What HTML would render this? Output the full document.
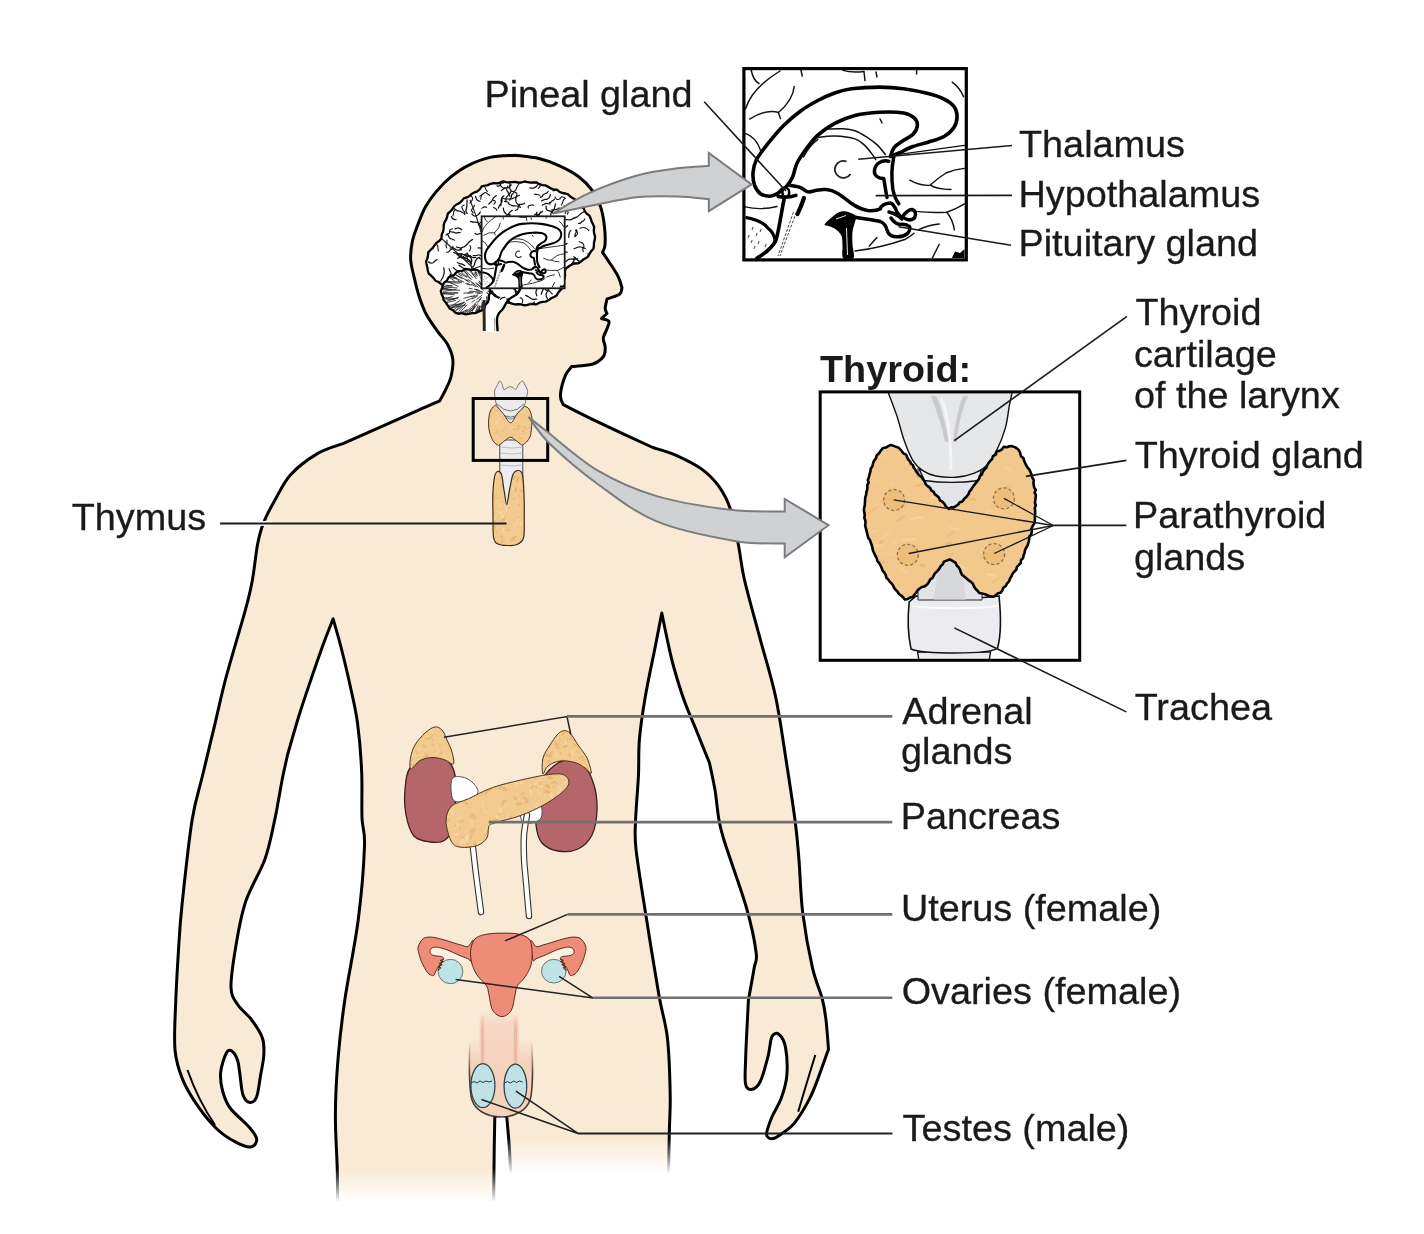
<!DOCTYPE html><html><head><meta charset="utf-8"><title>Endocrine system</title><style>html,body{margin:0;padding:0;background:#fff;overflow:hidden}svg{display:block;will-change:transform}.t{font-family:"Liberation Sans",sans-serif;font-size:37.8px;fill:#1a1a1a;stroke:#1a1a1a;stroke-width:0.3px}</style></head><body>
<svg width="1424" height="1234" viewBox="0 0 1424 1234">
<defs>
<linearGradient id="fadeL" x1="0" y1="0" x2="0" y2="1"><stop offset="0" stop-color="#fff" stop-opacity="0"/><stop offset="1" stop-color="#fff" stop-opacity="1"/></linearGradient>
<g id="bd"><path d="M745.5 109 Q752 88 780 71" fill="none" stroke="#111" stroke-width="1.45" stroke-linecap="round"/>
<path d="M751.3 70.5 Q753 80 759 83.5" fill="none" stroke="#111" stroke-width="1.45" stroke-linecap="round"/>
<path d="M749.6 119.1 Q765 109 778.2 112.3 L780.5 118.5" fill="none" stroke="#111" stroke-width="1.45" stroke-linecap="round"/>
<path d="M778.5 112.5 Q793 100 794.2 86.5" fill="none" stroke="#111" stroke-width="1.45" stroke-linecap="round"/>
<path d="M745.4 133.4 Q756 137 760.5 150.3" fill="none" stroke="#111" stroke-width="1.45" stroke-linecap="round"/>
<path d="M801 70.5 L802.3 76" fill="none" stroke="#111" stroke-width="1.45" stroke-linecap="round"/>
<path d="M843 70.4 Q852 73 864 71.5" fill="none" stroke="#111" stroke-width="1.45" stroke-linecap="round"/>
<path d="M864 72 L865 80.6" fill="none" stroke="#111" stroke-width="1.45" stroke-linecap="round"/>
<path d="M876 72 L877 77" fill="none" stroke="#111" stroke-width="1.45" stroke-linecap="round"/>
<path d="M916.6 70 L916.6 74" fill="none" stroke="#111" stroke-width="1.45" stroke-linecap="round"/>
<path d="M952.2 82.2 Q960 88 963.6 96.8" fill="none" stroke="#111" stroke-width="1.45" stroke-linecap="round"/>
<path d="M909.8 180.2 Q920 186 930 185.3 Q938 178 946 173 Q955 169 964.5 168.4" fill="none" stroke="#111" stroke-width="1.45" stroke-linecap="round"/>
<path d="M930.8 185.3 Q936 189 951 189.5" fill="none" stroke="#111" stroke-width="1.45" stroke-linecap="round"/>
<path d="M915.7 211.4 Q930 213 946.8 212.2 Q956 209 964.5 203.8" fill="none" stroke="#111" stroke-width="1.45" stroke-linecap="round"/>
<path d="M946.8 212.2 Q953 220 954.4 229.9" fill="none" stroke="#111" stroke-width="1.45" stroke-linecap="round"/>
<path d="M918.2 229.9 Q928 225 939.2 224" fill="none" stroke="#111" stroke-width="1.45" stroke-linecap="round"/>
<path d="M855 251 Q880 248 905.5 239.2 Q911 236 914 233.3" fill="none" stroke="#111" stroke-width="1.45" stroke-linecap="round"/>
<path d="M869.3 246 L876.9 237.5" fill="none" stroke="#111" stroke-width="1.45" stroke-linecap="round"/>
<path d="M932.5 257.7 L939.2 244.3" fill="none" stroke="#111" stroke-width="1.45" stroke-linecap="round"/>
<path d="M745.4 206.9 Q760 210.5 777 206.5" fill="none" stroke="#111" stroke-width="1.45" stroke-linecap="round"/>
<path d="M893.9 155.1 Q930 150 964.4 145.4" fill="none" stroke="#111" stroke-width="1.45" stroke-linecap="round"/>
<path d="M803.5 157 Q809 146 817.8 139.3" fill="none" stroke="#111" stroke-width="1.45" stroke-linecap="round"/>
<path d="M880 119 L882 123" fill="none" stroke="#111" stroke-width="1.45" stroke-linecap="round"/>
<path d="M951.9 258 L955 251.5 L960 253 L964.5 249 L964.5 258Z" fill="#000"/>
<path d="M826.3 129.2C829.1 129.1 838.3 128.5 843.1 128.8C847.9 129.1 851 129.4 855 130.8C859 132.2 863.4 134.9 867.2 137.3C871 139.7 874.6 142.4 877.7 145.4C880.8 148.4 884.4 153.5 885.8 155.1" fill="none" stroke="#111" stroke-width="1.5"/>
<path d="M816.2 137.6C819.3 137.3 828.2 135.8 834.7 136C841.2 136.2 850 137.3 855 138.9C860 140.5 861.7 142.7 864.7 145.4C867.7 148.1 870.9 152.7 872.8 155.1C874.7 157.5 875.5 159.2 876 160" fill="none" stroke="#111" stroke-width="1.5"/>
<path d="M846.5 161.5 A8.5 8.5 0 1 0 850.5 174" fill="none" stroke="#222" stroke-width="1.8"/>
<path d="M781.6 189.5C780.9 190.2 779.4 192.6 777.4 193.7C775.4 194.8 772.6 196.2 769.8 196.2C767 196.2 763 195.5 760.5 193.7C758 191.9 755.9 188.8 754.6 185.3C753.4 181.8 752.7 176.8 753 172.6C753.3 168.4 753.9 164.7 756.3 160C758.7 155.3 762.7 150.2 767.3 144.4C771.9 138.6 778.5 130.6 784.1 125C789.7 119.4 795.4 114.8 801 110.7C806.6 106.6 812.2 103.5 817.8 100.5C823.4 97.5 829.1 95 834.7 93C840.3 91 844.1 89.8 851.5 88.8C858.9 87.8 870.6 87.1 879.3 87.1C888 87.1 895.5 87.6 903.6 88.7C911.7 89.8 921.2 91.8 928 93.6C934.8 95.3 939.8 97 944.1 99.2C948.4 101.4 951.7 103.7 953.9 106.5C956.1 109.3 957.1 112.7 957.1 116.2C957.1 119.7 956.1 124.2 953.9 127.6C951.7 131 948.4 134.1 944.1 136.5C939.8 138.9 933.4 140.4 928 142.2C922.6 143.9 916.4 145.2 911.7 147C907 148.8 903.1 151.1 899.6 152.7C896.1 154.3 892 155.9 890.5 156.5C891.1 155.1 892 150.3 893.9 147.8C895.8 145.3 898.8 143.7 902 141.4C905.2 139.1 910.7 136.8 913.3 134.1C915.9 131.4 917.2 127.9 917.4 125.2C917.5 122.5 916.5 119.9 914.2 117.9C911.9 115.9 909.4 114 903.6 113C897.8 112 887.4 111.8 879.3 112.2C871.2 112.6 862.4 113.6 855 115.4C847.6 117.2 840.9 120 834.7 123.3C828.5 126.6 822.7 130.6 817.8 135.1C812.9 139.6 808.7 145.5 805.2 150.3C801.7 155.1 798.9 159.3 796.8 163.7C794.7 168.1 794.3 173.2 792.6 176.9C790.9 180.6 788.5 184 786.7 186.1C784.9 188.2 782.5 188.9 781.6 189.5Z" fill="#fff" stroke="#000" stroke-width="3.6" stroke-linejoin="round"/>
<path d="M888.7 161.2 C882 159.5 875 163.5 874.4 171 C874 176 879 178.5 883.6 178.5 C884.5 182 885.5 190 887 197.5" fill="none" stroke="#000" stroke-width="3.5" stroke-linecap="round" stroke-linejoin="round"/>
<path d="M893.8 157 C891 170 891.5 180 892.9 189.5 C894 195 896 200 898.8 203.8" fill="none" stroke="#000" stroke-width="3.5" stroke-linecap="round" stroke-linejoin="round"/>
<path d="M789.2 185.3 C795 186 800 187 802.7 188.7 C805 190 806 192 809.4 192 C815 190 820 189 826.3 189.5 C835 190 842 196 851.5 203.5 C858 208 862 209.5 867.6 210.5 C874 211 878 210 880.3 208.9 C881 206 884 203.5 890.4 203 C894 204 895.5 208 897.1 212.2 C899 215 901 217 902.2 217.3" fill="none" stroke="#000" stroke-width="3.5" stroke-linecap="round" stroke-linejoin="round"/>
<path d="M902.2 217.3 C905 213 908 209.5 912 209.5 C915.5 210.5 916.5 214.5 914.5 218 C912 220.5 908 220 905 218.5" fill="none" stroke="#000" stroke-width="3.5" stroke-linecap="round" stroke-linejoin="round"/>
<path d="M855 217.3 C865 219 875 220 880.3 221.5 C884 223 886 226 887 230 C888 233 890 236 894 236.5 C898 237 903 237 907 234 C910 231 910.6 229 909.5 226.5 C907 224.5 904 224 900 224.5 C896 224 893 221 891 218" fill="none" stroke="#000" stroke-width="3.5" stroke-linecap="round" stroke-linejoin="round"/>
<path d="M889 212 C893 213 898 214.5 902 219" fill="none" stroke="#000" stroke-width="3.5" stroke-linecap="round" stroke-linejoin="round"/>
<ellipse cx="785.8" cy="192.4" rx="3.4" ry="4.4" fill="#fff" stroke="#000" stroke-width="2.6"/>
<path d="M778.2 196.5 Q787 198.5 795.9 195.4" fill="none" stroke="#000" stroke-width="3.5" stroke-linecap="round" stroke-linejoin="round"/>
<path d="M784.1 199 C781.6 210.6 779.6 227.4 776 240.1 C772 248 765 253.5 757 258" fill="none" stroke="#000" stroke-width="3.6" stroke-linecap="round"/>
<path d="M745.4 217.3 C755 219 763 222 767.3 227.4 C773 232 775.5 238 775 243" fill="none" stroke="#000" stroke-width="3.2"/>
<path d="M804 198 Q801 207 797.5 214" fill="none" stroke="#000" stroke-width="4.2" stroke-linecap="round"/>
<path d="M796.5 212 L780 256 M793.5 212 L778 256" fill="none" stroke="#333" stroke-width="0.9" stroke-dasharray="3 1.5"/>
<path d="M752 230 l1.2 -3" stroke="#555" stroke-width="1.1"/>
<path d="M756 236 l1.2 -3" stroke="#555" stroke-width="1.1"/>
<path d="M751 243 l1.2 -3" stroke="#555" stroke-width="1.1"/>
<path d="M754 249 l1.2 -3" stroke="#555" stroke-width="1.1"/>
<path d="M760 232 l1.2 -3" stroke="#555" stroke-width="1.1"/>
<path d="M748 238 l1.2 -3" stroke="#555" stroke-width="1.1"/>
<path d="M758 244 l1.2 -3" stroke="#555" stroke-width="1.1"/>
<path d="M765 247 l1.2 -3" stroke="#555" stroke-width="1.1"/>
<path d="M824.6 224.5C824.8 223.1 828.6 220.1 831 218C833.4 215.9 836.4 213.3 838.9 212.2C841.4 211.1 843.8 211.3 846 211.5C848.2 211.7 850.3 212.7 852 213.5C853.7 214.3 855.5 215.1 856 216.5C856.5 217.9 855.6 219.4 855 222C854.4 224.6 852.9 228.2 852.5 232C852.1 235.8 852.3 240.7 852.5 245C852.7 249.3 855.1 255.8 853.5 258C851.9 260.2 844.9 260.2 843.1 258C841.3 255.8 842.8 248.7 842.5 245C842.2 241.3 842.5 238.4 841.4 235.8C840.3 233.2 837.9 231.1 836 229.5C834.1 227.9 831.9 227.3 830 226.5C828.1 225.7 824.4 225.9 824.6 224.5Z" fill="#000"/>
<path d="M836 219 L846 215.5 M846.5 228 L847.5 255" stroke="#fff" stroke-width="0.9" fill="none"/></g>
</defs>
<rect width="1424" height="1234" fill="#fff"/>
<path d="M514.8 155.2C518.8 155.8 531.6 156.8 538.9 158.5C546.2 160.2 551.9 162.4 558.4 165.3C564.9 168.2 572.1 171.8 577.8 176C583.5 180.2 588.5 185.2 592.4 190.6C596.3 195.9 599 202 601 208.1C603 214.2 603.8 220.8 604.5 227C605.2 233.2 605.3 240.8 605 245C604.7 249.2 602.9 251.2 602.5 252.4C603.6 253.9 606.3 257.7 608.9 261.7C611.5 265.7 616 272.2 618.2 276.6C620.4 281 621.4 285.9 622 287.8C621.6 288.9 622 292.4 619.5 294.3C617 296.2 609.1 298.2 607 299C606.7 300.6 605.2 305.9 605.2 308.3C605.2 310.7 606.7 312.6 607 313.5C606.1 314.3 602.4 317.7 601.5 318.5C602.7 319 608 319.6 608.9 321.3C609.8 323 607.9 326 607 328.8C606.1 331.6 603.6 335 603.3 338.1C603 341.2 605.2 344.3 605.2 347.4C605.2 350.5 605.5 353.9 603.3 356.7C601.1 359.5 597.4 362.6 592.1 364.2C586.8 365.8 575.1 366.1 571.7 366.5C570.6 368 567.2 370.9 565.3 375.6C563.4 380.4 560.7 390.1 560.4 395C560.1 399.9 562.8 403.1 563.3 404.7C569.1 407.6 583.4 415.1 598.3 422.2C613.2 429.3 643.7 443.3 652.8 447.5C656.7 448.8 668 451.7 676.1 455.3C684.2 458.9 694.3 463.7 701.4 468.9C708.5 474.1 714 479.6 718.9 486.4C723.8 493.2 727.4 500.1 730.6 509.8C733.9 519.5 736.1 533.1 738.4 544.8C740.7 556.5 740.9 564.4 744.5 580C748.1 595.6 754.8 618.8 760 638.3C765.2 657.8 771.4 677.2 775.6 696.7C779.8 716.2 782.1 734.5 785.3 755C788.5 775.5 792.7 802.7 795 820C797.3 837.3 797.6 843.3 798.9 858.9C800.2 874.5 800.5 895.2 802.8 913.4C805.1 931.5 809.2 953.5 812.5 967.8C815.8 982.1 820 990.3 822.3 999C824.5 1007.7 825 1011.6 826 1020C827 1028.4 828.1 1044.4 828.5 1049.3C826.9 1053.7 822.1 1067.6 819 1075.8C815.9 1084 813.7 1090.7 809.6 1098.6C805.5 1106.5 798.8 1117.5 794.4 1123.2C790 1128.9 786.6 1130.1 783 1132.7C779.4 1135.3 775.8 1138.3 773 1138.6C770.2 1138.9 766.7 1138 766.5 1134.5C766.3 1131 769.3 1123.5 771.7 1117.5C774.1 1111.5 778.6 1105.5 781.1 1098.6C783.6 1091.6 786.1 1084.3 786.8 1075.8C787.5 1067.3 786.8 1054.3 785.5 1047.4C784.2 1040.5 781.2 1036.3 779 1034.5C776.8 1032.7 773.9 1032.8 772 1036.5C770.1 1040.2 769.9 1049.4 767.9 1056.9C765.9 1064.4 763 1076.1 760.3 1081.5C757.6 1086.9 754 1089.1 751.5 1089.5C749 1089.9 746.5 1088.9 745.5 1084C744.5 1079.1 745.4 1067.7 745.6 1060C745.8 1052.3 746 1047.9 746.5 1037.9C747 1027.9 748.1 1006.3 748.4 1000C749.4 994.6 752.9 975.8 754.2 967.8C755.5 959.8 757.4 962.3 756.1 952.3C754.8 942.2 751.6 925.7 746.4 907.5C741.2 889.3 729.6 857.9 725 843.3C720.4 828.7 720.7 828.9 719 820C717.3 811.1 716.6 799.5 715 790C713.4 780.5 710.4 767.5 709.5 763C707.4 757.8 701.2 742.4 697 732C692.8 721.6 688 711.3 684.2 700.6C680.4 689.9 676.7 677.6 674 668C671.3 658.4 670 652.2 668 643C666 633.8 662.8 618 661.8 613C660.7 618.8 657.8 634 655 648C652.2 662 647.9 681.5 645.3 696.7C642.7 712 640.5 726.5 639.4 739.5C638.3 752.5 639.1 761.1 638.5 774.5C637.9 787.9 636 807.5 635.6 820C635.2 832.5 634.4 834 636 849.2C637.6 864.4 641.5 887.1 645.3 911.4C649.1 935.7 655.2 973.9 658.9 995C662.6 1016.1 665.5 1021.3 667.4 1037.9C669.3 1054.5 669.9 1079 670.2 1094.8C670.5 1110.6 669.7 1115.2 669.3 1132.7C668.9 1150.2 668.2 1188.8 668 1200C642 1200 538 1200 512 1200C511.6 1191.7 510.4 1163.8 509.5 1150C508.6 1136.2 507.2 1122.5 506.8 1117C505.8 1116.5 502.5 1114 500.5 1114C498.5 1114 495.8 1116.5 494.8 1117C494.7 1122.5 494.4 1133.7 494.2 1150C494 1166.3 493.6 1204.2 493.5 1215C467.5 1215 363.5 1215 337.5 1215C337.5 1207.6 337.7 1187.5 337.3 1170.6C336.9 1153.7 335.2 1132.8 335.4 1113.8C335.5 1094.8 336.6 1075.9 338.2 1056.9C339.8 1037.9 341.5 1022.8 344.8 1000C348.1 977.2 354.9 945.7 358.2 920C361.5 894.3 363.9 863 364.5 846C365.1 829 362.5 830.6 362 818C361.5 805.4 362.4 786.4 361.6 770.5C360.9 754.6 359.4 737.1 357.5 722.9C355.6 708.6 352.7 697.5 350 685C347.3 672.5 344 659 341.2 648C338.4 637 334.5 623.8 333.1 618.9C331.4 623.2 326.4 635.6 323 645C319.6 654.4 316.4 663.5 312.5 675C308.6 686.5 303.7 700.7 299.5 714C295.3 727.3 289.5 748.2 287.5 755C286.7 758.8 284 770.5 282.5 778C281 785.5 279.8 793 278.5 800C277.2 807 276.9 810.2 274.7 820C272.4 829.8 269.9 845.3 265 858.9C260.1 872.5 250.5 887.1 245.6 901.7C240.7 916.3 238.2 932.1 235.8 946.4C233.4 960.7 230.7 977.6 231 987.3C231.3 997 234.5 999.5 237.8 1004.8C241.1 1010.1 246.9 1013.5 251 1019C255.1 1024.5 260.3 1032 262.4 1038C264.5 1044 264.1 1048.7 263.8 1055C263.5 1061.3 261.7 1068.8 260.5 1075.8C259.3 1082.8 258.4 1092.2 256.7 1096.7C254.9 1101.2 252.3 1102.8 250 1102.5C247.7 1102.2 244.7 1099.6 243 1095C241.3 1090.4 240.9 1080.7 240 1075C239.1 1069.3 239 1064.7 237.7 1060.7C236.4 1056.7 233.9 1052.5 232 1051.2C230.1 1049.9 228.3 1049.5 226.4 1053C224.5 1056.5 221.3 1065.7 220.7 1072C220.1 1078.3 221 1085 222.6 1091C224.2 1097 225.7 1102 230.1 1108C234.5 1114 244.7 1121.8 249.1 1127C253.5 1132.2 256.4 1135.7 256.7 1139C257 1142.3 254.5 1146.5 251 1147C247.5 1147.5 241.5 1145.2 235.8 1142.2C230.1 1139.2 223.2 1135 216.9 1129C210.6 1123 203.6 1114.4 197.9 1106.2C192.2 1098 186.5 1089 182.7 1079.6C178.9 1070.2 176.2 1063.3 175 1050C173.8 1036.7 175.2 1016.7 175.8 1000C176.4 983.3 177.5 965.8 178.5 950C179.5 934.2 179.7 926.7 182 905C184.3 883.3 188.6 841.8 192.1 820C195.6 798.2 199.1 790.2 202.8 774.5C206.5 758.8 210.6 742.1 214.5 725.9C218.4 709.7 220.9 696.7 226.1 677.2C231.3 657.8 241.2 625.4 245.6 609.2C250 593 250.4 590.7 252.4 580C254.4 569.3 255.7 554.2 257.5 544.8C259.3 535.4 260.4 530.9 263.3 523.4C266.2 515.9 270.4 508.1 275 500C279.6 491.9 283.5 482.5 290.6 474.7C297.7 466.9 309.1 458.6 317.8 453.4C326.5 448.2 338.8 445.2 343 443.6C352.5 439.4 386.7 424.3 400 418.4C413.3 412.5 416.1 411.1 422.7 408.2C429.3 405.3 436.9 402.1 439.7 400.9C440.6 399.1 443.5 394.2 445.4 390.1C447.3 386 449.9 381.6 451.1 376.5C452.3 371.4 453.4 364.7 452.8 359.4C452.2 354.1 450.3 349.4 447.7 344.7C445.1 340 441 336.2 437.4 331.1C433.8 326 429.1 319.7 426.1 314C423.1 308.3 421.2 302.7 419.3 297C417.4 291.3 416.2 286.2 414.8 280C413.4 273.8 411.1 266.5 410.7 260C410.3 253.5 411.2 247 412.4 241.1C413.6 235.2 415.8 230.1 418 224.3C420.2 218.5 422.6 211.9 425.8 206.3C429 200.7 433 195.5 437.1 190.6C441.2 185.7 445.6 181.2 450.6 177.1C455.7 173 460.8 169.1 467.4 165.8C473.9 162.5 482 159.2 489.9 157.4C497.8 155.6 510.6 155.6 514.8 155.2Z" fill="#f9ead6" stroke="#000" stroke-width="3" stroke-linejoin="round"/>
<path d="M187.5 1070 Q198 1100 215 1125" fill="none" stroke="#000" stroke-width="2"/>
<path d="M815.3 1055 Q806 1085 798.2 1111.8" fill="none" stroke="#000" stroke-width="2"/>
<rect x="499.8" y="440" width="23" height="70" fill="#ededf1" stroke="#333" stroke-width="0.9"/>
<path d="M500 447 Q512 449 524 447" fill="none" stroke="#b0b1b4" stroke-width="0.8"/>
<path d="M500 453 Q512 455 524 453" fill="none" stroke="#b0b1b4" stroke-width="0.8"/>
<path d="M500 459 Q512 461 524 459" fill="none" stroke="#b0b1b4" stroke-width="0.8"/>
<path d="M500 465 Q512 467 524 465" fill="none" stroke="#b0b1b4" stroke-width="0.8"/>
<path d="M494.5 392.1C494.5 388.8 496.1 387.8 497 386C497.9 384.2 498.8 381.4 499.6 381.1C500.4 380.8 501.3 382.6 502 384C502.7 385.4 503 388.9 503.8 389.6C504.6 390.3 505.9 388.5 507 388C508.1 387.5 509.5 386.6 510.6 386.6C511.7 386.6 512.6 387.5 513.5 388C514.4 388.5 514.8 390.3 515.7 389.6C516.6 388.9 517.9 385.4 519 384C520.1 382.6 521.6 380.9 522.6 381.1C523.6 381.3 524.1 383.3 525 385C525.9 386.7 527.5 389.1 527.7 391.3C527.9 393.5 526.6 395.6 526 398C525.4 400.4 525.8 402.9 524.3 405.7C522.8 408.5 519.3 412.8 517 415C514.7 417.2 512.8 419 510.6 419C508.4 419 506.3 417.2 504 415C501.7 412.8 498.6 409.8 497 406C495.4 402.2 494.5 395.4 494.5 392.1Z" fill="#ebebee" stroke="#666" stroke-width="0.9"/>
<path d="M497 404 Q510.6 418 524 404 M500 413 Q510.6 421 521 413" fill="none" stroke="#555" stroke-width="0.8"/>
<clipPath id="sthy"><path d="M494.5 405.7C495.7 404.8 495.6 405.3 497 406.6C498.4 407.9 500.7 410.8 503 413.5C505.3 416.2 508.3 422.7 510.6 422.8C512.9 422.9 514.9 416.6 517 414C519.1 411.4 522 408.6 523.4 407.4C524.8 406.2 524.4 406.3 525.3 406.6C526.2 406.9 527.9 407.1 529 409C530.1 410.9 531.5 414.5 531.9 417.7C532.3 420.9 531.8 424.9 531.5 428C531.2 431.1 531 434.1 530.2 436.4C529.4 438.7 527.8 440.6 526.5 442C525.2 443.4 523.4 444.5 522.6 445C521.8 445.5 522.6 445.6 521.5 444.8C520.4 444.1 517.8 441.8 516 440.5C514.2 439.2 512.4 437.2 510.6 437.2C508.8 437.2 506.8 439.2 505 440.5C503.2 441.8 500.8 444.1 499.6 444.8C498.4 445.6 498.9 445.6 497.9 445C496.9 444.4 494.9 443.7 493.5 441.5C492.1 439.3 490.3 435.1 489.5 432C488.7 428.9 488.4 426.1 488.5 422.8C488.6 419.5 489 414.9 490 412C491 409.1 493.3 406.6 494.5 405.7Z"/></clipPath>
<path d="M494.5 405.7C495.7 404.8 495.6 405.3 497 406.6C498.4 407.9 500.7 410.8 503 413.5C505.3 416.2 508.3 422.7 510.6 422.8C512.9 422.9 514.9 416.6 517 414C519.1 411.4 522 408.6 523.4 407.4C524.8 406.2 524.4 406.3 525.3 406.6C526.2 406.9 527.9 407.1 529 409C530.1 410.9 531.5 414.5 531.9 417.7C532.3 420.9 531.8 424.9 531.5 428C531.2 431.1 531 434.1 530.2 436.4C529.4 438.7 527.8 440.6 526.5 442C525.2 443.4 523.4 444.5 522.6 445C521.8 445.5 522.6 445.6 521.5 444.8C520.4 444.1 517.8 441.8 516 440.5C514.2 439.2 512.4 437.2 510.6 437.2C508.8 437.2 506.8 439.2 505 440.5C503.2 441.8 500.8 444.1 499.6 444.8C498.4 445.6 498.9 445.6 497.9 445C496.9 444.4 494.9 443.7 493.5 441.5C492.1 439.3 490.3 435.1 489.5 432C488.7 428.9 488.4 426.1 488.5 422.8C488.6 419.5 489 414.9 490 412C491 409.1 493.3 406.6 494.5 405.7Z" fill="#f2c98f"/>
<g opacity="0.5" clip-path="url(#sthy)"><ellipse cx="501.9" cy="428.4" rx="1.4" ry="0.8" fill="#f9e0b8" transform="rotate(84.1 501.9 428.4)"/><ellipse cx="528.4" cy="409.3" rx="2.3" ry="0.8" fill="#f7d9ab" transform="rotate(8.4 528.4 409.3)"/><ellipse cx="506.4" cy="434.2" rx="1.2" ry="0.6" fill="#e4ad6a" transform="rotate(143.1 506.4 434.2)"/><ellipse cx="510.7" cy="427.6" rx="1.9" ry="0.9" fill="#f9e0b8" transform="rotate(19.5 510.7 427.6)"/><ellipse cx="498" cy="436.5" rx="1.8" ry="0.6" fill="#f9e0b8" transform="rotate(40 498 436.5)"/><ellipse cx="527.7" cy="413.7" rx="2.2" ry="0.8" fill="#f7d9ab" transform="rotate(116.3 527.7 413.7)"/><ellipse cx="518.5" cy="427.8" rx="1.6" ry="0.8" fill="#e4ad6a" transform="rotate(69.9 518.5 427.8)"/><ellipse cx="503.1" cy="418.8" rx="1.7" ry="0.5" fill="#e0a862" transform="rotate(125.6 503.1 418.8)"/><ellipse cx="489.6" cy="415.7" rx="1.8" ry="0.6" fill="#e0a862" transform="rotate(145.6 489.6 415.7)"/><ellipse cx="512.6" cy="427.3" rx="1.1" ry="0.5" fill="#f7d9ab" transform="rotate(2.9 512.6 427.3)"/><ellipse cx="529.2" cy="428.5" rx="2.2" ry="1.1" fill="#f7d9ab" transform="rotate(37.2 529.2 428.5)"/><ellipse cx="496.6" cy="432" rx="2.2" ry="0.8" fill="#e4ad6a" transform="rotate(127.4 496.6 432)"/><ellipse cx="503.1" cy="430.4" rx="2.3" ry="0.7" fill="#e0a862" transform="rotate(130.2 503.1 430.4)"/><ellipse cx="498.9" cy="419.1" rx="2.1" ry="1" fill="#f9e0b8" transform="rotate(116 498.9 419.1)"/><ellipse cx="500.1" cy="436" rx="1.1" ry="0.6" fill="#e4ad6a" transform="rotate(87.6 500.1 436)"/><ellipse cx="496.7" cy="410.6" rx="2" ry="0.8" fill="#e0a862" transform="rotate(3.3 496.7 410.6)"/><ellipse cx="524.9" cy="427.6" rx="2.3" ry="0.8" fill="#e0a862" transform="rotate(34.3 524.9 427.6)"/><ellipse cx="512.8" cy="427.8" rx="1.5" ry="0.6" fill="#f9e0b8" transform="rotate(104.1 512.8 427.8)"/><ellipse cx="522" cy="423.3" rx="2" ry="0.8" fill="#f7d9ab" transform="rotate(105.7 522 423.3)"/><ellipse cx="505.8" cy="439.5" rx="1.2" ry="0.5" fill="#f7d9ab" transform="rotate(92.2 505.8 439.5)"/><ellipse cx="491.2" cy="428.2" rx="2" ry="1.1" fill="#f7d9ab" transform="rotate(31.2 491.2 428.2)"/><ellipse cx="520.6" cy="438.3" rx="2.3" ry="0.9" fill="#e4ad6a" transform="rotate(1.9 520.6 438.3)"/><ellipse cx="515.7" cy="437.9" rx="1.3" ry="0.8" fill="#f7d9ab" transform="rotate(80.6 515.7 437.9)"/><ellipse cx="514.1" cy="429" rx="1.4" ry="0.7" fill="#e0a862" transform="rotate(123.3 514.1 429)"/><ellipse cx="524.4" cy="436.8" rx="1.4" ry="0.7" fill="#f7d9ab" transform="rotate(108.6 524.4 436.8)"/><ellipse cx="513.1" cy="435.1" rx="1.6" ry="0.6" fill="#e4ad6a" transform="rotate(106.3 513.1 435.1)"/><ellipse cx="519.2" cy="425.9" rx="1.8" ry="0.8" fill="#e0a862" transform="rotate(12.6 519.2 425.9)"/><ellipse cx="523.3" cy="431.5" rx="1.4" ry="0.8" fill="#e0a862" transform="rotate(23.8 523.3 431.5)"/><ellipse cx="491.3" cy="410.5" rx="1.9" ry="1.1" fill="#e4ad6a" transform="rotate(31.9 491.3 410.5)"/><ellipse cx="497.3" cy="416" rx="1.3" ry="0.7" fill="#e0a862" transform="rotate(96.6 497.3 416)"/><ellipse cx="523.1" cy="436.2" rx="2" ry="0.8" fill="#f7d9ab" transform="rotate(179.5 523.1 436.2)"/><ellipse cx="496.4" cy="422.5" rx="2.3" ry="1.4" fill="#f9e0b8" transform="rotate(88.1 496.4 422.5)"/><ellipse cx="490.1" cy="426.8" rx="1.6" ry="0.9" fill="#e0a862" transform="rotate(90.7 490.1 426.8)"/><ellipse cx="529.2" cy="427.7" rx="1.6" ry="0.9" fill="#e4ad6a" transform="rotate(152.1 529.2 427.7)"/><ellipse cx="521.4" cy="432.7" rx="1.1" ry="0.4" fill="#f9e0b8" transform="rotate(178.5 521.4 432.7)"/><ellipse cx="517.6" cy="428.9" rx="1.9" ry="1.1" fill="#e0a862" transform="rotate(156.7 517.6 428.9)"/><ellipse cx="523.6" cy="434.1" rx="1.3" ry="0.7" fill="#e0a862" transform="rotate(17.4 523.6 434.1)"/><ellipse cx="497.7" cy="413.3" rx="1.9" ry="0.6" fill="#f7d9ab" transform="rotate(166.5 497.7 413.3)"/><ellipse cx="497.6" cy="416.1" rx="2.2" ry="1" fill="#f7d9ab" transform="rotate(94.1 497.6 416.1)"/><ellipse cx="515.2" cy="420.1" rx="2.1" ry="1" fill="#f7d9ab" transform="rotate(61.9 515.2 420.1)"/></g>
<path d="M494.5 405.7C495.7 404.8 495.6 405.3 497 406.6C498.4 407.9 500.7 410.8 503 413.5C505.3 416.2 508.3 422.7 510.6 422.8C512.9 422.9 514.9 416.6 517 414C519.1 411.4 522 408.6 523.4 407.4C524.8 406.2 524.4 406.3 525.3 406.6C526.2 406.9 527.9 407.1 529 409C530.1 410.9 531.5 414.5 531.9 417.7C532.3 420.9 531.8 424.9 531.5 428C531.2 431.1 531 434.1 530.2 436.4C529.4 438.7 527.8 440.6 526.5 442C525.2 443.4 523.4 444.5 522.6 445C521.8 445.5 522.6 445.6 521.5 444.8C520.4 444.1 517.8 441.8 516 440.5C514.2 439.2 512.4 437.2 510.6 437.2C508.8 437.2 506.8 439.2 505 440.5C503.2 441.8 500.8 444.1 499.6 444.8C498.4 445.6 498.9 445.6 497.9 445C496.9 444.4 494.9 443.7 493.5 441.5C492.1 439.3 490.3 435.1 489.5 432C488.7 428.9 488.4 426.1 488.5 422.8C488.6 419.5 489 414.9 490 412C491 409.1 493.3 406.6 494.5 405.7Z" fill="none" stroke="#4a3418" stroke-width="1"/>
<clipPath id="thym"><path d="M494.5 477C495.3 473.1 496.3 471.9 497.5 471.5C498.7 471.1 500.4 471.4 501.5 474.5C502.6 477.6 503.1 485 504 490C504.9 495 505.8 504.5 506.7 504.5C507.6 504.5 508.4 495 509.5 490C510.6 485 511.5 477.8 513 474.5C514.5 471.2 516.9 470.4 518.5 470.5C520.1 470.6 521.6 470.9 522.5 475C523.4 479.1 523.7 487.5 524 495C524.3 502.5 524.3 512.8 524.2 520C524.1 527.2 524.7 533.9 523.5 538C522.3 542.1 519.6 543.2 517 544.5C514.4 545.8 511.2 545.6 508 545.5C504.8 545.4 500.4 545.4 498 544C495.6 542.6 494.3 541.8 493.5 537C492.7 532.2 493.1 522 493 515C492.9 508 492.6 501.3 492.8 495C493.1 488.7 493.7 480.9 494.5 477Z"/></clipPath>
<path d="M494.5 477C495.3 473.1 496.3 471.9 497.5 471.5C498.7 471.1 500.4 471.4 501.5 474.5C502.6 477.6 503.1 485 504 490C504.9 495 505.8 504.5 506.7 504.5C507.6 504.5 508.4 495 509.5 490C510.6 485 511.5 477.8 513 474.5C514.5 471.2 516.9 470.4 518.5 470.5C520.1 470.6 521.6 470.9 522.5 475C523.4 479.1 523.7 487.5 524 495C524.3 502.5 524.3 512.8 524.2 520C524.1 527.2 524.7 533.9 523.5 538C522.3 542.1 519.6 543.2 517 544.5C514.4 545.8 511.2 545.6 508 545.5C504.8 545.4 500.4 545.4 498 544C495.6 542.6 494.3 541.8 493.5 537C492.7 532.2 493.1 522 493 515C492.9 508 492.6 501.3 492.8 495C493.1 488.7 493.7 480.9 494.5 477Z" fill="#f2c98f"/>
<g opacity="0.5" clip-path="url(#thym)"><ellipse cx="512.8" cy="488.7" rx="2.1" ry="1.2" fill="#f9e0b8" transform="rotate(15.3 512.8 488.7)"/><ellipse cx="499.8" cy="512.3" rx="2.9" ry="1.2" fill="#f9e0b8" transform="rotate(17.7 499.8 512.3)"/><ellipse cx="502.8" cy="484.7" rx="3" ry="1.2" fill="#e0a862" transform="rotate(108.7 502.8 484.7)"/><ellipse cx="512.7" cy="539.2" rx="2.9" ry="1.5" fill="#e0a862" transform="rotate(148.5 512.7 539.2)"/><ellipse cx="493" cy="495.8" rx="2.6" ry="1.1" fill="#e4ad6a" transform="rotate(177.2 493 495.8)"/><ellipse cx="521.4" cy="490.8" rx="2.5" ry="1.1" fill="#e4ad6a" transform="rotate(48.5 521.4 490.8)"/><ellipse cx="514.2" cy="537.2" rx="2.9" ry="1" fill="#e0a862" transform="rotate(178 514.2 537.2)"/><ellipse cx="506.2" cy="509.3" rx="2.2" ry="1.1" fill="#f9e0b8" transform="rotate(89.9 506.2 509.3)"/><ellipse cx="495.7" cy="498.1" rx="2.2" ry="0.7" fill="#e0a862" transform="rotate(1.6 495.7 498.1)"/><ellipse cx="507.6" cy="529.8" rx="2.4" ry="1.1" fill="#e4ad6a" transform="rotate(175 507.6 529.8)"/><ellipse cx="515.6" cy="477.8" rx="1.5" ry="0.6" fill="#f7d9ab" transform="rotate(44.2 515.6 477.8)"/><ellipse cx="519.6" cy="519.1" rx="2.4" ry="0.9" fill="#e0a862" transform="rotate(75.8 519.6 519.1)"/><ellipse cx="516.9" cy="499.8" rx="1.4" ry="0.5" fill="#f7d9ab" transform="rotate(9.3 516.9 499.8)"/><ellipse cx="494.9" cy="520.6" rx="2.2" ry="0.9" fill="#e0a862" transform="rotate(154 494.9 520.6)"/><ellipse cx="495.6" cy="482.5" rx="1.6" ry="1" fill="#f7d9ab" transform="rotate(118.6 495.6 482.5)"/><ellipse cx="497.8" cy="474.3" rx="1.5" ry="0.6" fill="#f9e0b8" transform="rotate(132.8 497.8 474.3)"/><ellipse cx="493.3" cy="508" rx="1.7" ry="1" fill="#f7d9ab" transform="rotate(179.2 493.3 508)"/><ellipse cx="497.5" cy="500.8" rx="1.9" ry="0.6" fill="#f9e0b8" transform="rotate(153.9 497.5 500.8)"/><ellipse cx="518.8" cy="495.7" rx="1.9" ry="0.6" fill="#e0a862" transform="rotate(96 518.8 495.7)"/><ellipse cx="501.7" cy="531.1" rx="1.8" ry="0.7" fill="#f7d9ab" transform="rotate(145.9 501.7 531.1)"/><ellipse cx="495.9" cy="475.6" rx="1.4" ry="0.7" fill="#f9e0b8" transform="rotate(156.4 495.9 475.6)"/><ellipse cx="502.1" cy="520.3" rx="1.7" ry="0.9" fill="#e4ad6a" transform="rotate(149.6 502.1 520.3)"/><ellipse cx="500.6" cy="543.8" rx="1.3" ry="0.6" fill="#f7d9ab" transform="rotate(33.3 500.6 543.8)"/><ellipse cx="514.6" cy="524.8" rx="2.6" ry="1.3" fill="#f7d9ab" transform="rotate(100.9 514.6 524.8)"/><ellipse cx="518" cy="520.5" rx="2.9" ry="1.3" fill="#f7d9ab" transform="rotate(136.4 518 520.5)"/><ellipse cx="509.3" cy="507.6" rx="1.5" ry="0.9" fill="#e4ad6a" transform="rotate(60.2 509.3 507.6)"/><ellipse cx="493.8" cy="484.9" rx="2.1" ry="1.1" fill="#f7d9ab" transform="rotate(84.3 493.8 484.9)"/><ellipse cx="499.6" cy="473.4" rx="1.3" ry="0.5" fill="#e4ad6a" transform="rotate(15.7 499.6 473.4)"/><ellipse cx="496.2" cy="531.9" rx="1.5" ry="0.8" fill="#e4ad6a" transform="rotate(173.1 496.2 531.9)"/><ellipse cx="504.1" cy="499.6" rx="1.4" ry="0.8" fill="#f9e0b8" transform="rotate(160.8 504.1 499.6)"/><ellipse cx="505.6" cy="533.9" rx="1.3" ry="0.6" fill="#f7d9ab" transform="rotate(56.3 505.6 533.9)"/><ellipse cx="509.3" cy="505.1" rx="2" ry="1.2" fill="#f7d9ab" transform="rotate(155.8 509.3 505.1)"/><ellipse cx="517.6" cy="479.6" rx="3" ry="1.5" fill="#e0a862" transform="rotate(96 517.6 479.6)"/><ellipse cx="501.9" cy="542.3" rx="2.2" ry="1" fill="#e0a862" transform="rotate(131.5 501.9 542.3)"/><ellipse cx="509.4" cy="514.9" rx="1.3" ry="0.5" fill="#f9e0b8" transform="rotate(69.1 509.4 514.9)"/><ellipse cx="514" cy="495.9" rx="1.9" ry="1.1" fill="#f7d9ab" transform="rotate(148.3 514 495.9)"/><ellipse cx="495" cy="526.7" rx="2.2" ry="1" fill="#e0a862" transform="rotate(98.3 495 526.7)"/><ellipse cx="505.6" cy="511.2" rx="2" ry="0.7" fill="#f9e0b8" transform="rotate(103.4 505.6 511.2)"/><ellipse cx="519" cy="504.6" rx="1.8" ry="0.7" fill="#e4ad6a" transform="rotate(28.6 519 504.6)"/><ellipse cx="513.9" cy="498.2" rx="1.4" ry="0.8" fill="#e0a862" transform="rotate(72.2 513.9 498.2)"/><ellipse cx="503.3" cy="537.6" rx="2.3" ry="0.9" fill="#e4ad6a" transform="rotate(50.9 503.3 537.6)"/><ellipse cx="506.3" cy="522.3" rx="3" ry="1.6" fill="#f9e0b8" transform="rotate(82.8 506.3 522.3)"/><ellipse cx="501.5" cy="538.3" rx="2.8" ry="1.2" fill="#f9e0b8" transform="rotate(9.9 501.5 538.3)"/><ellipse cx="514" cy="477.9" rx="2.2" ry="1.1" fill="#e0a862" transform="rotate(134.5 514 477.9)"/><ellipse cx="494.7" cy="518.6" rx="2.1" ry="0.8" fill="#f9e0b8" transform="rotate(89.2 494.7 518.6)"/><ellipse cx="502.5" cy="516.9" rx="2.4" ry="1.3" fill="#f9e0b8" transform="rotate(130.5 502.5 516.9)"/><ellipse cx="520" cy="498" rx="1.3" ry="0.4" fill="#e0a862" transform="rotate(105.4 520 498)"/><ellipse cx="521.8" cy="479.2" rx="2.7" ry="0.9" fill="#e4ad6a" transform="rotate(123.2 521.8 479.2)"/><ellipse cx="509.9" cy="509.5" rx="1.5" ry="0.6" fill="#f7d9ab" transform="rotate(3 509.9 509.5)"/><ellipse cx="500.7" cy="537.7" rx="2.6" ry="1.2" fill="#f7d9ab" transform="rotate(96.6 500.7 537.7)"/><ellipse cx="521.8" cy="523.8" rx="2.6" ry="1.4" fill="#f9e0b8" transform="rotate(46.9 521.8 523.8)"/><ellipse cx="504.2" cy="519.5" rx="2.3" ry="1.3" fill="#e0a862" transform="rotate(90 504.2 519.5)"/><ellipse cx="499.9" cy="505.2" rx="2.5" ry="0.9" fill="#f9e0b8" transform="rotate(103.1 499.9 505.2)"/><ellipse cx="522.3" cy="520.1" rx="2.5" ry="0.9" fill="#f9e0b8" transform="rotate(85.6 522.3 520.1)"/><ellipse cx="511.5" cy="487.2" rx="2.6" ry="1.2" fill="#f7d9ab" transform="rotate(149.3 511.5 487.2)"/><ellipse cx="501.6" cy="538.1" rx="2.9" ry="1.2" fill="#e4ad6a" transform="rotate(71.1 501.6 538.1)"/><ellipse cx="501.9" cy="494" rx="1.5" ry="0.7" fill="#f7d9ab" transform="rotate(29.3 501.9 494)"/><ellipse cx="515.7" cy="489.2" rx="2.5" ry="1.4" fill="#e0a862" transform="rotate(97 515.7 489.2)"/><ellipse cx="503.1" cy="530.4" rx="2.6" ry="1.4" fill="#f9e0b8" transform="rotate(97.8 503.1 530.4)"/><ellipse cx="518.8" cy="523.9" rx="2.3" ry="1.2" fill="#f7d9ab" transform="rotate(174.6 518.8 523.9)"/></g>
<path d="M494.5 477C495.3 473.1 496.3 471.9 497.5 471.5C498.7 471.1 500.4 471.4 501.5 474.5C502.6 477.6 503.1 485 504 490C504.9 495 505.8 504.5 506.7 504.5C507.6 504.5 508.4 495 509.5 490C510.6 485 511.5 477.8 513 474.5C514.5 471.2 516.9 470.4 518.5 470.5C520.1 470.6 521.6 470.9 522.5 475C523.4 479.1 523.7 487.5 524 495C524.3 502.5 524.3 512.8 524.2 520C524.1 527.2 524.7 533.9 523.5 538C522.3 542.1 519.6 543.2 517 544.5C514.4 545.8 511.2 545.6 508 545.5C504.8 545.4 500.4 545.4 498 544C495.6 542.6 494.3 541.8 493.5 537C492.7 532.2 493.1 522 493 515C492.9 508 492.6 501.3 492.8 495C493.1 488.7 493.7 480.9 494.5 477Z" fill="none" stroke="#3a2a14" stroke-width="1.2"/>
<path d="M430 756C436.2 754.7 442.8 756.8 447 760C451.2 763.2 453.6 768.3 455 775C456.4 781.7 455.8 791.7 455.5 800C455.2 808.3 455.2 818.3 453.5 825C451.8 831.7 448.9 837.2 445 840C441.1 842.8 435.2 842.7 430 842C424.8 841.3 418 840.5 414 836C410 831.5 407.5 822.7 406 815C404.5 807.3 404.3 797.8 405 790C405.7 782.2 405.8 773.7 410 768C414.2 762.3 423.8 757.3 430 756Z" fill="#b4666b" stroke="#3d1d1d" stroke-width="1.3"/>
<path d="M565 760C571.5 758.5 579.2 761.8 584 766C588.8 770.2 591.8 777.7 594 785C596.2 792.3 597.3 801.7 597 810C596.7 818.3 595.2 828.5 592 835C588.8 841.5 583.7 846.3 578 849C572.3 851.7 564 852 558 851C552 850 545.7 847.3 542 843C538.3 838.7 536.8 832.2 536 825C535.2 817.8 535.5 808.3 537 800C538.5 791.7 540.3 781.7 545 775C549.7 768.3 558.5 761.5 565 760Z" fill="#b4666b" stroke="#3d1d1d" stroke-width="1.3"/>
<path d="M452 779C453.7 775.7 458.7 776.5 462 777C465.3 777.5 469.3 779.5 472 782C474.7 784.5 478.3 789 478 792C477.7 795 473.3 798.3 470 800C466.7 801.7 461 802.5 458 802C455 801.5 453 800.8 452 797C451 793.2 450.3 782.3 452 779Z" fill="#fff" stroke="#444" stroke-width="0.9"/>
<path d="M521 806C522.7 803 528.7 803 532 803C535.3 803 539.5 803.5 541 806C542.5 808.5 542.5 815.2 541 818C539.5 820.8 535.2 822.5 532 823C528.8 823.5 523.8 823.8 522 821C520.2 818.2 519.3 809 521 806Z" fill="#fff" stroke="#444" stroke-width="0.9"/>
<path d="M470 812C470.2 815 470.5 824 471 830C471.5 836 472.2 840.7 473 848C473.8 855.3 475 865.8 476 874C477 882.2 478.2 890.7 479 897C479.8 903.3 480.7 909.5 481 912" fill="none" stroke="#333" stroke-width="6.5" stroke-linecap="round"/>
<path d="M470 812C470.2 815 470.5 824 471 830C471.5 836 472.2 840.7 473 848C473.8 855.3 475 865.8 476 874C477 882.2 478.2 890.7 479 897C479.8 903.3 480.7 909.5 481 912" fill="none" stroke="#fff" stroke-width="4.3" stroke-linecap="round"/>
<path d="M527 815C526.5 818.3 524.5 827.8 524 835C523.5 842.2 523.7 850.2 524 858C524.3 865.8 525.2 872.3 526 882C526.8 891.7 528.5 910.3 529 916" fill="none" stroke="#333" stroke-width="6.5" stroke-linecap="round"/>
<path d="M527 815C526.5 818.3 524.5 827.8 524 835C523.5 842.2 523.7 850.2 524 858C524.3 865.8 525.2 872.3 526 882C526.8 891.7 528.5 910.3 529 916" fill="none" stroke="#fff" stroke-width="4.3" stroke-linecap="round"/>
<clipPath id="adr0"><path d="M434.7 727C437.5 726.5 439.9 727.8 442 730C444.1 732.2 445.3 736.3 447 740C448.7 743.7 450.9 748 452 752C453.1 756 454.6 762.7 453.4 764C452.2 765.3 448.4 761.1 445 760C441.6 758.9 437.2 757.4 433 757.5C428.8 757.6 423.7 758.6 420 760.5C416.3 762.4 412.6 769.4 411 769C409.4 768.6 409.8 762 410.5 758C411.2 754 412.6 749.2 415 745C417.4 740.8 421.7 736 425 733C428.3 730 431.9 727.5 434.7 727Z"/></clipPath>
<path d="M434.7 727C437.5 726.5 439.9 727.8 442 730C444.1 732.2 445.3 736.3 447 740C448.7 743.7 450.9 748 452 752C453.1 756 454.6 762.7 453.4 764C452.2 765.3 448.4 761.1 445 760C441.6 758.9 437.2 757.4 433 757.5C428.8 757.6 423.7 758.6 420 760.5C416.3 762.4 412.6 769.4 411 769C409.4 768.6 409.8 762 410.5 758C411.2 754 412.6 749.2 415 745C417.4 740.8 421.7 736 425 733C428.3 730 431.9 727.5 434.7 727Z" fill="#f2c98f"/>
<g opacity="0.5" clip-path="url(#adr0)"><ellipse cx="433.6" cy="739.1" rx="1.3" ry="0.6" fill="#f9e0b8" transform="rotate(37.8 433.6 739.1)"/><ellipse cx="445.5" cy="749.3" rx="2" ry="1.1" fill="#f7d9ab" transform="rotate(62.7 445.5 749.3)"/><ellipse cx="427.7" cy="737.4" rx="2.2" ry="0.9" fill="#f7d9ab" transform="rotate(77.2 427.7 737.4)"/><ellipse cx="439.4" cy="753.8" rx="2.8" ry="0.9" fill="#f9e0b8" transform="rotate(89 439.4 753.8)"/><ellipse cx="423.9" cy="748.3" rx="1.5" ry="0.8" fill="#f7d9ab" transform="rotate(21.3 423.9 748.3)"/><ellipse cx="428.1" cy="758.5" rx="1.8" ry="0.8" fill="#f9e0b8" transform="rotate(33.5 428.1 758.5)"/><ellipse cx="413.4" cy="766.4" rx="2.9" ry="1.3" fill="#e0a862" transform="rotate(87.4 413.4 766.4)"/><ellipse cx="421.4" cy="737.7" rx="2.5" ry="1.2" fill="#e4ad6a" transform="rotate(123.5 421.4 737.7)"/><ellipse cx="432.5" cy="744.6" rx="1.6" ry="0.6" fill="#e0a862" transform="rotate(66.6 432.5 744.6)"/><ellipse cx="449" cy="761.2" rx="1.8" ry="1" fill="#e0a862" transform="rotate(119.1 449 761.2)"/><ellipse cx="446.2" cy="746.8" rx="1.8" ry="0.6" fill="#f9e0b8" transform="rotate(28.6 446.2 746.8)"/><ellipse cx="433.2" cy="740.5" rx="2.5" ry="0.8" fill="#f7d9ab" transform="rotate(60.2 433.2 740.5)"/><ellipse cx="446.8" cy="757.5" rx="2.7" ry="1.2" fill="#f7d9ab" transform="rotate(126.7 446.8 757.5)"/><ellipse cx="416.7" cy="752" rx="2.3" ry="1" fill="#e4ad6a" transform="rotate(78.9 416.7 752)"/><ellipse cx="421.2" cy="739.3" rx="1.8" ry="1" fill="#f9e0b8" transform="rotate(2.5 421.2 739.3)"/><ellipse cx="425.2" cy="747.1" rx="2" ry="0.7" fill="#e0a862" transform="rotate(88 425.2 747.1)"/><ellipse cx="435.1" cy="734.4" rx="1.7" ry="0.7" fill="#e4ad6a" transform="rotate(19 435.1 734.4)"/><ellipse cx="430.9" cy="731" rx="1.9" ry="0.7" fill="#f9e0b8" transform="rotate(126.4 430.9 731)"/><ellipse cx="411.4" cy="755.8" rx="2.2" ry="1.2" fill="#f9e0b8" transform="rotate(139.5 411.4 755.8)"/><ellipse cx="432.7" cy="739.8" rx="2.3" ry="0.8" fill="#e4ad6a" transform="rotate(41.1 432.7 739.8)"/><ellipse cx="432" cy="735" rx="1.8" ry="0.6" fill="#e0a862" transform="rotate(4.5 432 735)"/><ellipse cx="427.6" cy="738.6" rx="2.5" ry="1.1" fill="#e0a862" transform="rotate(174 427.6 738.6)"/><ellipse cx="442.4" cy="746.5" rx="1.4" ry="0.8" fill="#f7d9ab" transform="rotate(13.6 442.4 746.5)"/><ellipse cx="434.6" cy="753.4" rx="2.3" ry="0.8" fill="#f7d9ab" transform="rotate(0 434.6 753.4)"/><ellipse cx="411.3" cy="759.6" rx="1.9" ry="0.8" fill="#e0a862" transform="rotate(57.8 411.3 759.6)"/><ellipse cx="437.5" cy="744.1" rx="1.6" ry="0.5" fill="#f7d9ab" transform="rotate(4.3 437.5 744.1)"/><ellipse cx="418.7" cy="749.9" rx="3" ry="0.9" fill="#f7d9ab" transform="rotate(145.1 418.7 749.9)"/><ellipse cx="450.5" cy="760.7" rx="1.8" ry="1" fill="#f9e0b8" transform="rotate(70.9 450.5 760.7)"/><ellipse cx="413.5" cy="754.7" rx="2" ry="0.7" fill="#f9e0b8" transform="rotate(102 413.5 754.7)"/><ellipse cx="437.1" cy="752.8" rx="2.1" ry="0.9" fill="#f9e0b8" transform="rotate(84.1 437.1 752.8)"/><ellipse cx="443.5" cy="754.6" rx="2.2" ry="1.1" fill="#f9e0b8" transform="rotate(32.1 443.5 754.6)"/><ellipse cx="438.5" cy="741" rx="1.3" ry="0.6" fill="#f7d9ab" transform="rotate(16.4 438.5 741)"/><ellipse cx="440.6" cy="753.5" rx="2.6" ry="1.3" fill="#e4ad6a" transform="rotate(148.4 440.6 753.5)"/><ellipse cx="446.5" cy="758.8" rx="1.3" ry="0.4" fill="#f7d9ab" transform="rotate(93.9 446.5 758.8)"/><ellipse cx="417.6" cy="759.4" rx="1.7" ry="0.6" fill="#f9e0b8" transform="rotate(154.2 417.6 759.4)"/><ellipse cx="425.4" cy="756.7" rx="2.6" ry="1" fill="#e4ad6a" transform="rotate(165.2 425.4 756.7)"/><ellipse cx="440.2" cy="742.5" rx="2.5" ry="0.9" fill="#f7d9ab" transform="rotate(59.9 440.2 742.5)"/><ellipse cx="430.4" cy="737.5" rx="2.1" ry="0.9" fill="#e4ad6a" transform="rotate(173.1 430.4 737.5)"/><ellipse cx="435.1" cy="751.1" rx="1.4" ry="0.7" fill="#e4ad6a" transform="rotate(75.4 435.1 751.1)"/><ellipse cx="439.9" cy="744.8" rx="1.7" ry="0.8" fill="#e4ad6a" transform="rotate(39.3 439.9 744.8)"/><ellipse cx="433" cy="732" rx="1.5" ry="0.5" fill="#f9e0b8" transform="rotate(111.4 433 732)"/><ellipse cx="426.5" cy="756.1" rx="2.9" ry="1.7" fill="#e0a862" transform="rotate(77.8 426.5 756.1)"/><ellipse cx="423.4" cy="745.9" rx="1.9" ry="0.9" fill="#e0a862" transform="rotate(54.8 423.4 745.9)"/><ellipse cx="420.6" cy="755.7" rx="1.3" ry="0.7" fill="#f9e0b8" transform="rotate(76.6 420.6 755.7)"/><ellipse cx="449.8" cy="760.6" rx="2.6" ry="1.1" fill="#f7d9ab" transform="rotate(72 449.8 760.6)"/></g>
<path d="M434.7 727C437.5 726.5 439.9 727.8 442 730C444.1 732.2 445.3 736.3 447 740C448.7 743.7 450.9 748 452 752C453.1 756 454.6 762.7 453.4 764C452.2 765.3 448.4 761.1 445 760C441.6 758.9 437.2 757.4 433 757.5C428.8 757.6 423.7 758.6 420 760.5C416.3 762.4 412.6 769.4 411 769C409.4 768.6 409.8 762 410.5 758C411.2 754 412.6 749.2 415 745C417.4 740.8 421.7 736 425 733C428.3 730 431.9 727.5 434.7 727Z" fill="none" stroke="#4a3418" stroke-width="1"/>
<clipPath id="adr1"><path d="M563.3 730.8C565.5 730.5 567.5 730.6 570 733C572.5 735.4 575.2 740.8 578 745C580.8 749.2 584.8 753.3 587 758C589.2 762.7 591.6 771.3 591.3 773C591 774.7 587.7 769.8 585 768C582.3 766.2 579.2 763.7 575 762.5C570.8 761.3 564.5 760.4 560 761C555.5 761.6 550.9 763.8 548 766C545.1 768.2 543.6 775.3 542.8 774C542 772.7 541.8 762.8 543 758C544.2 753.2 547.7 748.8 550 745C552.3 741.2 554.8 737.4 557 735C559.2 732.6 561.1 731.1 563.3 730.8Z"/></clipPath>
<path d="M563.3 730.8C565.5 730.5 567.5 730.6 570 733C572.5 735.4 575.2 740.8 578 745C580.8 749.2 584.8 753.3 587 758C589.2 762.7 591.6 771.3 591.3 773C591 774.7 587.7 769.8 585 768C582.3 766.2 579.2 763.7 575 762.5C570.8 761.3 564.5 760.4 560 761C555.5 761.6 550.9 763.8 548 766C545.1 768.2 543.6 775.3 542.8 774C542 772.7 541.8 762.8 543 758C544.2 753.2 547.7 748.8 550 745C552.3 741.2 554.8 737.4 557 735C559.2 732.6 561.1 731.1 563.3 730.8Z" fill="#f2c98f"/>
<g opacity="0.5" clip-path="url(#adr1)"><ellipse cx="561.9" cy="760.3" rx="1.5" ry="0.5" fill="#e4ad6a" transform="rotate(41.7 561.9 760.3)"/><ellipse cx="549.9" cy="762.8" rx="2.4" ry="0.8" fill="#e0a862" transform="rotate(96.4 549.9 762.8)"/><ellipse cx="568.3" cy="739.7" rx="2.3" ry="0.8" fill="#e0a862" transform="rotate(138.6 568.3 739.7)"/><ellipse cx="559.4" cy="739.7" rx="1.9" ry="0.9" fill="#e4ad6a" transform="rotate(44.4 559.4 739.7)"/><ellipse cx="563" cy="759.4" rx="1.4" ry="0.4" fill="#e4ad6a" transform="rotate(32.4 563 759.4)"/><ellipse cx="574.4" cy="740.2" rx="2.6" ry="1.4" fill="#e4ad6a" transform="rotate(34.9 574.4 740.2)"/><ellipse cx="566.2" cy="742.2" rx="1.8" ry="0.8" fill="#f9e0b8" transform="rotate(86.7 566.2 742.2)"/><ellipse cx="557.7" cy="738.4" rx="2.3" ry="1.1" fill="#f7d9ab" transform="rotate(121.4 557.7 738.4)"/><ellipse cx="556.6" cy="744" rx="2.7" ry="1.5" fill="#e4ad6a" transform="rotate(20.5 556.6 744)"/><ellipse cx="581.1" cy="755.1" rx="1.5" ry="0.5" fill="#f7d9ab" transform="rotate(176.9 581.1 755.1)"/><ellipse cx="572.5" cy="752.9" rx="2.8" ry="1.6" fill="#f7d9ab" transform="rotate(88.2 572.5 752.9)"/><ellipse cx="581.5" cy="757" rx="2.1" ry="1.2" fill="#e0a862" transform="rotate(4.4 581.5 757)"/><ellipse cx="561" cy="743" rx="1.6" ry="0.5" fill="#f7d9ab" transform="rotate(22.5 561 743)"/><ellipse cx="587.6" cy="769.1" rx="2.6" ry="1.5" fill="#e4ad6a" transform="rotate(156 587.6 769.1)"/><ellipse cx="569.7" cy="754.9" rx="2.1" ry="1.1" fill="#e4ad6a" transform="rotate(90.6 569.7 754.9)"/><ellipse cx="568.2" cy="761.8" rx="2.1" ry="1.1" fill="#e4ad6a" transform="rotate(84 568.2 761.8)"/><ellipse cx="560.8" cy="753.4" rx="1.9" ry="0.7" fill="#e0a862" transform="rotate(52.7 560.8 753.4)"/><ellipse cx="570.9" cy="738" rx="2.7" ry="0.9" fill="#e4ad6a" transform="rotate(76.5 570.9 738)"/><ellipse cx="557.7" cy="756.2" rx="2.9" ry="1.1" fill="#f7d9ab" transform="rotate(169.1 557.7 756.2)"/><ellipse cx="544.4" cy="757.4" rx="2.8" ry="1.1" fill="#f9e0b8" transform="rotate(36.4 544.4 757.4)"/><ellipse cx="564.3" cy="761.4" rx="1.7" ry="0.7" fill="#f9e0b8" transform="rotate(53.5 564.3 761.4)"/><ellipse cx="589.8" cy="769" rx="2.5" ry="1.4" fill="#f9e0b8" transform="rotate(81.3 589.8 769)"/><ellipse cx="574.7" cy="748.8" rx="1.4" ry="0.5" fill="#f7d9ab" transform="rotate(145.5 574.7 748.8)"/><ellipse cx="556" cy="743.1" rx="2.8" ry="1" fill="#e4ad6a" transform="rotate(55.3 556 743.1)"/><ellipse cx="584" cy="759.8" rx="2.5" ry="0.8" fill="#e0a862" transform="rotate(163.1 584 759.8)"/><ellipse cx="557.8" cy="747.5" rx="2.4" ry="1.1" fill="#e0a862" transform="rotate(39.9 557.8 747.5)"/><ellipse cx="545.1" cy="755.4" rx="2.9" ry="1.1" fill="#e0a862" transform="rotate(152.7 545.1 755.4)"/><ellipse cx="576" cy="744.8" rx="3" ry="1.6" fill="#e4ad6a" transform="rotate(11.1 576 744.8)"/><ellipse cx="578.2" cy="763.6" rx="2" ry="1.1" fill="#f7d9ab" transform="rotate(55.6 578.2 763.6)"/><ellipse cx="546.5" cy="752.1" rx="2.1" ry="0.8" fill="#f7d9ab" transform="rotate(136.6 546.5 752.1)"/><ellipse cx="586.5" cy="766.5" rx="2.5" ry="1" fill="#f7d9ab" transform="rotate(30.4 586.5 766.5)"/><ellipse cx="565.4" cy="746.3" rx="2.9" ry="1.2" fill="#e0a862" transform="rotate(156.5 565.4 746.3)"/><ellipse cx="545.6" cy="768.4" rx="2" ry="1.1" fill="#e0a862" transform="rotate(74.2 545.6 768.4)"/><ellipse cx="567.9" cy="744.6" rx="1.7" ry="0.6" fill="#f7d9ab" transform="rotate(16.4 567.9 744.6)"/><ellipse cx="549.5" cy="756.1" rx="2.8" ry="1.6" fill="#e0a862" transform="rotate(22.5 549.5 756.1)"/><ellipse cx="565.5" cy="742.7" rx="1.8" ry="1.1" fill="#f9e0b8" transform="rotate(139.5 565.5 742.7)"/><ellipse cx="563.2" cy="733.8" rx="2.4" ry="1.4" fill="#e4ad6a" transform="rotate(146.3 563.2 733.8)"/><ellipse cx="577.2" cy="744.2" rx="2.4" ry="1.1" fill="#f7d9ab" transform="rotate(35.4 577.2 744.2)"/><ellipse cx="549.7" cy="749.6" rx="1.5" ry="0.6" fill="#f9e0b8" transform="rotate(57.9 549.7 749.6)"/><ellipse cx="548.6" cy="761.3" rx="2.3" ry="1.3" fill="#e4ad6a" transform="rotate(159.1 548.6 761.3)"/><ellipse cx="555.6" cy="754.3" rx="2.6" ry="1.3" fill="#f9e0b8" transform="rotate(97.6 555.6 754.3)"/><ellipse cx="579.1" cy="758.7" rx="1.5" ry="0.8" fill="#e4ad6a" transform="rotate(25.7 579.1 758.7)"/><ellipse cx="551.2" cy="752.9" rx="2.4" ry="1.2" fill="#e0a862" transform="rotate(144.2 551.2 752.9)"/><ellipse cx="586.3" cy="766.4" rx="1.8" ry="0.8" fill="#e4ad6a" transform="rotate(119.4 586.3 766.4)"/><ellipse cx="577.7" cy="751.7" rx="1.8" ry="0.6" fill="#e0a862" transform="rotate(17.2 577.7 751.7)"/></g>
<path d="M563.3 730.8C565.5 730.5 567.5 730.6 570 733C572.5 735.4 575.2 740.8 578 745C580.8 749.2 584.8 753.3 587 758C589.2 762.7 591.6 771.3 591.3 773C591 774.7 587.7 769.8 585 768C582.3 766.2 579.2 763.7 575 762.5C570.8 761.3 564.5 760.4 560 761C555.5 761.6 550.9 763.8 548 766C545.1 768.2 543.6 775.3 542.8 774C542 772.7 541.8 762.8 543 758C544.2 753.2 547.7 748.8 550 745C552.3 741.2 554.8 737.4 557 735C559.2 732.6 561.1 731.1 563.3 730.8Z" fill="none" stroke="#4a3418" stroke-width="1"/>
<clipPath id="pan"><path d="M451.5 841.7C449 837.4 446 827.1 446 821.2C446 815.3 447.8 809.9 451.5 806.2C455.2 802.5 461.5 801.9 468.3 798.8C475.1 795.7 483.8 790.7 492.5 787.6C501.2 784.5 511.2 782.3 520.5 780.1C529.8 777.9 541.3 775.5 548.4 774.6C555.5 773.7 559.9 773.4 563.3 774.6C566.7 775.8 569 779.2 569 782C569 784.8 567.3 787.6 563.3 791.3C559.2 795 551.8 800.3 544.7 804.4C537.6 808.5 528.9 812.5 520.5 815.6C512.1 818.7 499.7 821.1 494.4 823C489.1 824.9 490.1 824.2 488.8 826.7C487.6 829.2 488.8 834.8 486.9 837.9C485 841 482 843.8 477.6 845.4C473.2 847 465.2 847.8 460.8 847.2C456.4 846.6 454 846 451.5 841.7Z"/></clipPath>
<path d="M451.5 841.7C449 837.4 446 827.1 446 821.2C446 815.3 447.8 809.9 451.5 806.2C455.2 802.5 461.5 801.9 468.3 798.8C475.1 795.7 483.8 790.7 492.5 787.6C501.2 784.5 511.2 782.3 520.5 780.1C529.8 777.9 541.3 775.5 548.4 774.6C555.5 773.7 559.9 773.4 563.3 774.6C566.7 775.8 569 779.2 569 782C569 784.8 567.3 787.6 563.3 791.3C559.2 795 551.8 800.3 544.7 804.4C537.6 808.5 528.9 812.5 520.5 815.6C512.1 818.7 499.7 821.1 494.4 823C489.1 824.9 490.1 824.2 488.8 826.7C487.6 829.2 488.8 834.8 486.9 837.9C485 841 482 843.8 477.6 845.4C473.2 847 465.2 847.8 460.8 847.2C456.4 846.6 454 846 451.5 841.7Z" fill="#f2c98f"/>
<g opacity="0.5" clip-path="url(#pan)"><ellipse cx="462" cy="821.2" rx="2.6" ry="1.2" fill="#e4ad6a" transform="rotate(173.2 462 821.2)"/><ellipse cx="543.5" cy="797.3" rx="1.8" ry="0.7" fill="#f7d9ab" transform="rotate(140.6 543.5 797.3)"/><ellipse cx="487.3" cy="828.2" rx="1.9" ry="0.9" fill="#f9e0b8" transform="rotate(125.2 487.3 828.2)"/><ellipse cx="555.9" cy="789.9" rx="2.2" ry="0.7" fill="#f7d9ab" transform="rotate(105.1 555.9 789.9)"/><ellipse cx="456.9" cy="819" rx="1.5" ry="0.8" fill="#f7d9ab" transform="rotate(83 456.9 819)"/><ellipse cx="476.4" cy="844.1" rx="3.1" ry="1.5" fill="#e0a862" transform="rotate(33.6 476.4 844.1)"/><ellipse cx="459.3" cy="827.9" rx="1.7" ry="0.5" fill="#e4ad6a" transform="rotate(86.3 459.3 827.9)"/><ellipse cx="544.2" cy="788.7" rx="1.6" ry="0.9" fill="#e4ad6a" transform="rotate(120.8 544.2 788.7)"/><ellipse cx="545.6" cy="786.5" rx="1.8" ry="0.7" fill="#e4ad6a" transform="rotate(10 545.6 786.5)"/><ellipse cx="472.2" cy="823.4" rx="3.5" ry="1.4" fill="#f7d9ab" transform="rotate(92.2 472.2 823.4)"/><ellipse cx="562.4" cy="777.6" rx="1.6" ry="0.9" fill="#f7d9ab" transform="rotate(56.2 562.4 777.6)"/><ellipse cx="483.3" cy="803.2" rx="2.8" ry="1.2" fill="#f7d9ab" transform="rotate(94.5 483.3 803.2)"/><ellipse cx="509.9" cy="817.2" rx="1.8" ry="0.9" fill="#e4ad6a" transform="rotate(97.3 509.9 817.2)"/><ellipse cx="459.8" cy="817.3" rx="2.5" ry="1.2" fill="#f7d9ab" transform="rotate(4.8 459.8 817.3)"/><ellipse cx="489.7" cy="789.1" rx="3.3" ry="1.4" fill="#e4ad6a" transform="rotate(6.3 489.7 789.1)"/><ellipse cx="482.2" cy="809.7" rx="1.8" ry="0.8" fill="#e0a862" transform="rotate(86.3 482.2 809.7)"/><ellipse cx="474.4" cy="818.1" rx="2.1" ry="1" fill="#e0a862" transform="rotate(163.8 474.4 818.1)"/><ellipse cx="504.7" cy="789.1" rx="3.1" ry="1.5" fill="#e0a862" transform="rotate(25.9 504.7 789.1)"/><ellipse cx="499.4" cy="813.9" rx="1.7" ry="0.8" fill="#e4ad6a" transform="rotate(0.7 499.4 813.9)"/><ellipse cx="535.8" cy="783.3" rx="2.5" ry="1" fill="#f9e0b8" transform="rotate(104.4 535.8 783.3)"/><ellipse cx="466.2" cy="803.1" rx="2.5" ry="1.3" fill="#e0a862" transform="rotate(40 466.2 803.1)"/><ellipse cx="457.4" cy="843.1" rx="1.9" ry="0.6" fill="#e4ad6a" transform="rotate(87.1 457.4 843.1)"/><ellipse cx="499.1" cy="816.4" rx="1.4" ry="0.5" fill="#f7d9ab" transform="rotate(107.3 499.1 816.4)"/><ellipse cx="502.9" cy="803.1" rx="3.5" ry="1.2" fill="#e0a862" transform="rotate(113.7 502.9 803.1)"/><ellipse cx="482.8" cy="807.6" rx="2" ry="1.1" fill="#f7d9ab" transform="rotate(102.4 482.8 807.6)"/><ellipse cx="456.4" cy="825.2" rx="2.7" ry="1.1" fill="#e4ad6a" transform="rotate(151 456.4 825.2)"/><ellipse cx="515.2" cy="787.4" rx="2.3" ry="1" fill="#f7d9ab" transform="rotate(141.9 515.2 787.4)"/><ellipse cx="531.9" cy="787" rx="2.2" ry="1.1" fill="#e0a862" transform="rotate(124.6 531.9 787)"/><ellipse cx="496.6" cy="816.3" rx="1.7" ry="0.7" fill="#e0a862" transform="rotate(136.2 496.6 816.3)"/><ellipse cx="462.3" cy="841.9" rx="2.2" ry="1.3" fill="#f9e0b8" transform="rotate(5.5 462.3 841.9)"/><ellipse cx="540.6" cy="783.7" rx="2.9" ry="1.1" fill="#e0a862" transform="rotate(77.3 540.6 783.7)"/><ellipse cx="515.2" cy="798.2" rx="2.3" ry="1.3" fill="#e0a862" transform="rotate(37.7 515.2 798.2)"/><ellipse cx="523.9" cy="799.5" rx="2.9" ry="1" fill="#f9e0b8" transform="rotate(156.3 523.9 799.5)"/><ellipse cx="500" cy="787.6" rx="2.6" ry="0.9" fill="#e0a862" transform="rotate(97.8 500 787.6)"/><ellipse cx="507.6" cy="817.2" rx="3.5" ry="1.2" fill="#f7d9ab" transform="rotate(106.2 507.6 817.2)"/><ellipse cx="470.9" cy="837.1" rx="3.2" ry="1.1" fill="#e4ad6a" transform="rotate(115.8 470.9 837.1)"/><ellipse cx="537.3" cy="806.6" rx="2.5" ry="1" fill="#f7d9ab" transform="rotate(103.9 537.3 806.6)"/><ellipse cx="560" cy="792.2" rx="1.4" ry="0.6" fill="#f7d9ab" transform="rotate(116.8 560 792.2)"/><ellipse cx="462.6" cy="837.8" rx="1.8" ry="1" fill="#e4ad6a" transform="rotate(166.1 462.6 837.8)"/><ellipse cx="452.5" cy="812.1" rx="3.2" ry="1.4" fill="#f7d9ab" transform="rotate(95.5 452.5 812.1)"/><ellipse cx="536.4" cy="786.7" rx="1.6" ry="0.9" fill="#e0a862" transform="rotate(54.1 536.4 786.7)"/><ellipse cx="526.8" cy="801.2" rx="2.5" ry="1.4" fill="#e0a862" transform="rotate(101.2 526.8 801.2)"/><ellipse cx="560.9" cy="790.4" rx="1.4" ry="0.5" fill="#e0a862" transform="rotate(56.1 560.9 790.4)"/><ellipse cx="559.7" cy="791.1" rx="3.4" ry="1.9" fill="#f7d9ab" transform="rotate(117.7 559.7 791.1)"/><ellipse cx="499.5" cy="806.8" rx="1.5" ry="0.8" fill="#f7d9ab" transform="rotate(111.1 499.5 806.8)"/><ellipse cx="513.9" cy="806" rx="1.7" ry="0.9" fill="#f7d9ab" transform="rotate(90.3 513.9 806)"/><ellipse cx="528.9" cy="809.2" rx="1.5" ry="0.8" fill="#f7d9ab" transform="rotate(76.7 528.9 809.2)"/><ellipse cx="461.6" cy="847.1" rx="2.5" ry="1.5" fill="#f7d9ab" transform="rotate(130.2 461.6 847.1)"/><ellipse cx="458.6" cy="823.9" rx="1.3" ry="0.7" fill="#e0a862" transform="rotate(126.5 458.6 823.9)"/><ellipse cx="484.6" cy="811" rx="3.1" ry="1.6" fill="#f7d9ab" transform="rotate(49.2 484.6 811)"/><ellipse cx="505.4" cy="800.7" rx="2.1" ry="0.8" fill="#e0a862" transform="rotate(30.3 505.4 800.7)"/><ellipse cx="471.6" cy="815" rx="2.5" ry="1.2" fill="#e4ad6a" transform="rotate(142.2 471.6 815)"/><ellipse cx="547.9" cy="786.3" rx="2.8" ry="1.6" fill="#e0a862" transform="rotate(41.6 547.9 786.3)"/><ellipse cx="467.2" cy="838.1" rx="3.3" ry="1.7" fill="#f9e0b8" transform="rotate(93.1 467.2 838.1)"/><ellipse cx="544.4" cy="788.4" rx="1.5" ry="0.5" fill="#f9e0b8" transform="rotate(141.2 544.4 788.4)"/><ellipse cx="517.5" cy="794.8" rx="1.5" ry="0.8" fill="#f7d9ab" transform="rotate(149.1 517.5 794.8)"/><ellipse cx="551.3" cy="795.4" rx="3.2" ry="1.7" fill="#f9e0b8" transform="rotate(68.4 551.3 795.4)"/><ellipse cx="473.2" cy="816.3" rx="2.9" ry="1.5" fill="#e4ad6a" transform="rotate(168.8 473.2 816.3)"/><ellipse cx="520.9" cy="803.6" rx="2" ry="1.1" fill="#e4ad6a" transform="rotate(4.3 520.9 803.6)"/><ellipse cx="559.5" cy="787.1" rx="2.5" ry="1.1" fill="#f7d9ab" transform="rotate(13.1 559.5 787.1)"/><ellipse cx="497.2" cy="817.3" rx="3.2" ry="1.4" fill="#f9e0b8" transform="rotate(49.9 497.2 817.3)"/><ellipse cx="516.1" cy="782.6" rx="3.1" ry="1.3" fill="#f9e0b8" transform="rotate(97.9 516.1 782.6)"/><ellipse cx="518.1" cy="802.8" rx="1.4" ry="0.7" fill="#e4ad6a" transform="rotate(97.2 518.1 802.8)"/><ellipse cx="531" cy="792.3" rx="3" ry="1.3" fill="#f9e0b8" transform="rotate(81.4 531 792.3)"/><ellipse cx="553.6" cy="782.6" rx="2.9" ry="1.2" fill="#e0a862" transform="rotate(157.5 553.6 782.6)"/><ellipse cx="479.8" cy="842.8" rx="2.8" ry="0.9" fill="#f7d9ab" transform="rotate(176.6 479.8 842.8)"/><ellipse cx="565.6" cy="781.6" rx="2.3" ry="1.3" fill="#f9e0b8" transform="rotate(115.6 565.6 781.6)"/><ellipse cx="507.9" cy="812.7" rx="1.4" ry="0.9" fill="#f7d9ab" transform="rotate(51.2 507.9 812.7)"/><ellipse cx="539.7" cy="786" rx="3" ry="1.4" fill="#f9e0b8" transform="rotate(10 539.7 786)"/><ellipse cx="540.1" cy="780.8" rx="1.7" ry="0.7" fill="#f7d9ab" transform="rotate(140.7 540.1 780.8)"/><ellipse cx="471.7" cy="821.8" rx="2.1" ry="0.9" fill="#f9e0b8" transform="rotate(22.1 471.7 821.8)"/><ellipse cx="510.8" cy="817" rx="1.5" ry="0.6" fill="#e0a862" transform="rotate(105.4 510.8 817)"/><ellipse cx="550.1" cy="777.8" rx="3.2" ry="1.6" fill="#e0a862" transform="rotate(13.9 550.1 777.8)"/><ellipse cx="447.8" cy="820.5" rx="2.7" ry="1.4" fill="#e0a862" transform="rotate(152.3 447.8 820.5)"/><ellipse cx="518.8" cy="804.3" rx="3.5" ry="1.1" fill="#e0a862" transform="rotate(167.5 518.8 804.3)"/><ellipse cx="535.5" cy="777.9" rx="1.3" ry="0.6" fill="#e0a862" transform="rotate(155.6 535.5 777.9)"/><ellipse cx="461.1" cy="805.7" rx="2.5" ry="1.1" fill="#f7d9ab" transform="rotate(145.9 461.1 805.7)"/><ellipse cx="546.1" cy="793.5" rx="2.5" ry="0.8" fill="#f9e0b8" transform="rotate(147.2 546.1 793.5)"/><ellipse cx="556.5" cy="775.2" rx="1.6" ry="0.9" fill="#e4ad6a" transform="rotate(178.6 556.5 775.2)"/><ellipse cx="486.9" cy="835.9" rx="3.2" ry="1.8" fill="#e4ad6a" transform="rotate(15.8 486.9 835.9)"/><ellipse cx="485.6" cy="836.7" rx="1.9" ry="0.7" fill="#f7d9ab" transform="rotate(120.3 485.6 836.7)"/><ellipse cx="557.1" cy="783.3" rx="1.7" ry="0.8" fill="#e4ad6a" transform="rotate(157.7 557.1 783.3)"/><ellipse cx="487" cy="791.8" rx="3" ry="1.2" fill="#e0a862" transform="rotate(133.6 487 791.8)"/><ellipse cx="479.2" cy="843.7" rx="3" ry="1.8" fill="#f9e0b8" transform="rotate(30.7 479.2 843.7)"/><ellipse cx="531.1" cy="785.1" rx="1.7" ry="0.8" fill="#f9e0b8" transform="rotate(154 531.1 785.1)"/><ellipse cx="496.2" cy="820.3" rx="2.9" ry="1.5" fill="#e0a862" transform="rotate(13.5 496.2 820.3)"/><ellipse cx="500.2" cy="811.1" rx="2.9" ry="1.4" fill="#f9e0b8" transform="rotate(64.4 500.2 811.1)"/><ellipse cx="507.8" cy="813.9" rx="1.8" ry="0.7" fill="#f7d9ab" transform="rotate(87.7 507.8 813.9)"/><ellipse cx="466.6" cy="844" rx="2.3" ry="1.1" fill="#e4ad6a" transform="rotate(18.9 466.6 844)"/><ellipse cx="521.1" cy="782.8" rx="2.5" ry="1.3" fill="#f9e0b8" transform="rotate(136.6 521.1 782.8)"/><ellipse cx="555.1" cy="790.8" rx="1.8" ry="0.7" fill="#f7d9ab" transform="rotate(54.9 555.1 790.8)"/><ellipse cx="540.4" cy="776.4" rx="2.5" ry="1.4" fill="#f9e0b8" transform="rotate(10.9 540.4 776.4)"/><ellipse cx="525.7" cy="799.2" rx="3.2" ry="1.6" fill="#e0a862" transform="rotate(37.7 525.7 799.2)"/><ellipse cx="456.8" cy="834.1" rx="2.6" ry="1.4" fill="#f9e0b8" transform="rotate(160.3 456.8 834.1)"/><ellipse cx="491.6" cy="791.5" rx="1.6" ry="0.5" fill="#f7d9ab" transform="rotate(92.5 491.6 791.5)"/><ellipse cx="500.5" cy="808.3" rx="1.9" ry="0.8" fill="#f7d9ab" transform="rotate(31.6 500.5 808.3)"/><ellipse cx="459.3" cy="817.7" rx="3.5" ry="1.1" fill="#f7d9ab" transform="rotate(146 459.3 817.7)"/><ellipse cx="537.2" cy="789.6" rx="1.3" ry="0.5" fill="#f9e0b8" transform="rotate(142.8 537.2 789.6)"/><ellipse cx="539.4" cy="793.8" rx="2.5" ry="1.4" fill="#f7d9ab" transform="rotate(8.9 539.4 793.8)"/><ellipse cx="554.5" cy="787.3" rx="1.7" ry="0.5" fill="#e0a862" transform="rotate(139 554.5 787.3)"/><ellipse cx="457.8" cy="825" rx="2.6" ry="1.3" fill="#f9e0b8" transform="rotate(102.7 457.8 825)"/><ellipse cx="539.4" cy="784.5" rx="1.7" ry="0.7" fill="#e4ad6a" transform="rotate(26.6 539.4 784.5)"/><ellipse cx="463.9" cy="841.3" rx="3.4" ry="1.3" fill="#f9e0b8" transform="rotate(55.4 463.9 841.3)"/><ellipse cx="491.5" cy="824.4" rx="2.1" ry="1.1" fill="#f9e0b8" transform="rotate(98.9 491.5 824.4)"/><ellipse cx="522.4" cy="793.5" rx="2.9" ry="1.3" fill="#e4ad6a" transform="rotate(137.3 522.4 793.5)"/><ellipse cx="472.6" cy="831.1" rx="3.4" ry="2" fill="#e4ad6a" transform="rotate(141 472.6 831.1)"/><ellipse cx="547.2" cy="791.9" rx="3.2" ry="1.8" fill="#e0a862" transform="rotate(4.7 547.2 791.9)"/><ellipse cx="489.9" cy="791.2" rx="1.6" ry="0.8" fill="#e4ad6a" transform="rotate(134.2 489.9 791.2)"/><ellipse cx="535.5" cy="805.5" rx="2.4" ry="1.4" fill="#f7d9ab" transform="rotate(47.6 535.5 805.5)"/><ellipse cx="471.9" cy="814.2" rx="1.5" ry="0.6" fill="#e0a862" transform="rotate(64.2 471.9 814.2)"/></g>
<path d="M451.5 841.7C449 837.4 446 827.1 446 821.2C446 815.3 447.8 809.9 451.5 806.2C455.2 802.5 461.5 801.9 468.3 798.8C475.1 795.7 483.8 790.7 492.5 787.6C501.2 784.5 511.2 782.3 520.5 780.1C529.8 777.9 541.3 775.5 548.4 774.6C555.5 773.7 559.9 773.4 563.3 774.6C566.7 775.8 569 779.2 569 782C569 784.8 567.3 787.6 563.3 791.3C559.2 795 551.8 800.3 544.7 804.4C537.6 808.5 528.9 812.5 520.5 815.6C512.1 818.7 499.7 821.1 494.4 823C489.1 824.9 490.1 824.2 488.8 826.7C487.6 829.2 488.8 834.8 486.9 837.9C485 841 482 843.8 477.6 845.4C473.2 847 465.2 847.8 460.8 847.2C456.4 846.6 454 846 451.5 841.7Z" fill="none" stroke="#4a3418" stroke-width="1"/>
<defs><linearGradient id="pen" gradientUnits="userSpaceOnUse" x1="0" y1="1010" x2="0" y2="1026"><stop offset="0" stop-color="#f9ead6"/><stop offset="1" stop-color="#f6d6c3"/></linearGradient><linearGradient id="pes" gradientUnits="userSpaceOnUse" x1="0" y1="1012" x2="0" y2="1030"><stop offset="0" stop-color="#e8b49a" stop-opacity="0"/><stop offset="1" stop-color="#e8b49a" stop-opacity="1"/></linearGradient><linearGradient id="scf" gradientUnits="userSpaceOnUse" x1="0" y1="1038" x2="0" y2="1062"><stop offset="0" stop-color="#f9ead6"/><stop offset="1" stop-color="#f3d2be"/></linearGradient><linearGradient id="scs" gradientUnits="userSpaceOnUse" x1="0" y1="1042" x2="0" y2="1075"><stop offset="0" stop-color="#3a2a24" stop-opacity="0"/><stop offset="1" stop-color="#3a2a24" stop-opacity="0.9"/></linearGradient></defs>
<path d="M479.5 1010 L518.8 1010 L519 1075 L479.5 1075Z" fill="url(#pen)"/>
<path d="M469.7 1040C469.7 1045.8 469.1 1065 469.5 1075C469.9 1085 469.9 1093.8 472 1100C474.1 1106.2 477.2 1109.2 482 1112C486.8 1114.8 494.7 1117 501 1117C507.3 1117 515.2 1114.8 520 1112C524.8 1109.2 527.9 1106.2 530 1100C532.1 1093.8 532.2 1085 532.5 1075C532.8 1065 531.8 1045.8 531.6 1040Z" fill="url(#scf)"/>
<path d="M479.5 1040 L519 1040 L519 1070 L479.5 1070Z" fill="#f5d3bf"/>
<path d="M469.7 1040C469.7 1045.8 469.1 1065 469.5 1075C469.9 1085 469.9 1093.8 472 1100C474.1 1106.2 477.2 1109.2 482 1112C486.8 1114.8 494.7 1117 501 1117C507.3 1117 515.2 1114.8 520 1112C524.8 1109.2 527.9 1106.2 530 1100C532.1 1093.8 532.2 1085 532.5 1075C532.8 1065 531.8 1045.8 531.6 1040" fill="none" stroke="url(#scs)" stroke-width="1.6"/>
<path d="M482.5 1016 L482.5 1066 M515.5 1016 L515.5 1066" stroke="url(#pes)" stroke-width="3.2" opacity="0.8"/>
<path d="M431 949.5C431.5 948.2 434.3 947.6 437 947.8C439.7 948 443.5 949.3 447 950.5C450.5 951.7 454.7 953.7 458 955.2C461.3 956.7 466.2 957.9 467 959.5C467.8 961.1 465.5 964.6 463 965C460.5 965.4 455.2 962.9 452 962C448.8 961.1 447 960.6 444 959.5C441 958.4 436.2 957.2 434 955.5C431.8 953.8 430.5 950.8 431 949.5Z" fill="#fbf1e4"/>
<path d="M573 949.5C572.5 948.2 569.7 947.6 567 947.8C564.3 948 560.5 949.3 557 950.5C553.5 951.7 549.3 953.7 546 955.2C542.7 956.7 537.8 957.9 537 959.5C536.2 961.1 538.5 964.6 541 965C543.5 965.4 548.8 962.9 552 962C555.2 961.1 557 960.6 560 959.5C563 958.4 567.8 957.2 570 955.5C572.2 953.8 573.5 950.8 573 949.5Z" fill="#fbf1e4"/>
<ellipse cx="450.5" cy="971.5" rx="12.3" ry="12.2" fill="#c0e3e8" stroke="#5a6a6a" stroke-width="0.9"/>
<ellipse cx="553.8" cy="971.2" rx="12.3" ry="11.8" fill="#c0e3e8" stroke="#5a6a6a" stroke-width="0.9"/>
<path d="M473.2 940.8C472.7 938.5 469.9 945.8 467.9 946.5C465.9 947.2 463.6 945.7 461 945C458.4 944.3 455.3 943.4 452.1 942.4C448.9 941.4 445.1 940.1 441.6 939.2C438.1 938.3 434.2 937.2 431.1 937.1C428 937 425.3 937.2 423.2 938.7C421.1 940.2 419.2 943.9 418.4 946C417.6 948.1 417.9 948.6 418.4 951.3C418.9 953.9 420.1 958.4 421.6 961.9C423.1 965.4 425.6 970.1 427.4 972.4C429.2 974.7 431.4 975.3 432.6 975.6C433.8 975.9 434.1 975 434.7 974C435.3 973 435.6 971.1 436.3 969.8C437 968.5 438.1 967.4 439 966.1C439.9 964.8 440.8 963.1 441.6 961.9C442.4 960.7 443.7 959.6 443.7 958.7C443.7 957.8 443.3 957.1 441.6 956.6C439.9 956.1 435.6 956.1 433.7 955.5C431.8 954.9 430.4 954 430 952.9C429.6 951.8 430.1 949.7 431.1 948.7C432.2 947.7 433.7 946.9 436.3 947.1C438.9 947.3 443.4 948.5 446.9 949.7C450.4 950.9 453.9 953 457.4 954.5C460.9 956 465.6 957.8 467.9 958.7C470.2 959.6 470.1 963 471 960C471.9 957 473.7 943 473.2 940.8Z" fill="#ef8c77" stroke="#5a2a1e" stroke-width="1"/>
<path d="M530.8 940.8C531.3 938.5 534.1 945.8 536.1 946.5C538.1 947.2 540.4 945.7 543 945C545.6 944.3 548.7 943.4 551.9 942.4C555.1 941.4 558.9 940.1 562.4 939.2C565.9 938.3 569.8 937.2 572.9 937.1C576 937 578.7 937.2 580.8 938.7C582.9 940.2 584.8 943.9 585.6 946C586.4 948.1 586.1 948.6 585.6 951.3C585.1 953.9 583.9 958.4 582.4 961.9C580.9 965.4 578.4 970.1 576.6 972.4C574.8 974.7 572.6 975.3 571.4 975.6C570.2 975.9 569.9 975 569.3 974C568.7 973 568.4 971.1 567.7 969.8C567 968.5 565.9 967.4 565 966.1C564.1 964.8 563.2 963.1 562.4 961.9C561.6 960.7 560.3 959.6 560.3 958.7C560.3 957.8 560.7 957.1 562.4 956.6C564.1 956.1 568.4 956.1 570.3 955.5C572.2 954.9 573.6 954 574 952.9C574.4 951.8 573.9 949.7 572.9 948.7C571.9 947.7 570.3 946.9 567.7 947.1C565.1 947.3 560.6 948.5 557.1 949.7C553.6 950.9 550.1 953 546.6 954.5C543.1 956 538.4 957.8 536.1 958.7C533.8 959.6 533.9 963 533 960C532.1 957 530.3 943 530.8 940.8Z" fill="#ef8c77" stroke="#5a2a1e" stroke-width="1"/>
<path d="M443.5 959 l-2.5 1.5 l1.8 1.2 l-3 1.8 l1.8 1.2 l-3 2 l1.8 1.2 l-2.8 2.5 M560.5 959 l2.5 1.5 l-1.8 1.2 l3 1.8 l-1.8 1.2 l3 2 l-1.8 1.2 l2.8 2.5" fill="none" stroke="#5a2a1e" stroke-width="1.3"/>
<path d="M502 933.2C507 933.2 513.5 933 518 934C522.5 935 526.7 936.3 529 939C531.3 941.7 531.7 945.7 532 950C532.3 954.3 532.2 960.5 531 965C529.8 969.5 527.3 973.5 525 977C522.7 980.5 519.1 982.7 517.4 985.7C515.7 988.7 516 990.9 515 995C514 999.1 513.4 1006.8 511.2 1010.4C509 1014 505.1 1016.6 502 1016.6C498.9 1016.6 494.9 1014 492.7 1010.4C490.5 1006.8 490 999.1 489 995C488 990.9 488.5 989 486.5 985.7C484.5 982.4 479.5 979 477 975C474.5 971 472.5 966.5 471.5 962C470.5 957.5 470.2 952 471 948C471.8 944 473.2 940.3 476 938C478.8 935.7 483.7 934.8 488 934C492.3 933.2 497 933.2 502 933.2Z" fill="#ef8c77" stroke="#5a2a1e" stroke-width="1"/>
<ellipse cx="482.9" cy="1085.7" rx="12" ry="22" fill="#c0e2e6" stroke="#334444" stroke-width="1.3"/>
<ellipse cx="515.4" cy="1086.2" rx="11.3" ry="22" fill="#c0e2e6" stroke="#334444" stroke-width="1.3"/>
<path d="M471 1083 l3 -1.5 l3 1.5 l3 -2 l3 1.5 l3 -1.5 l3 1 l3 -1 M504.5 1083 l3 -1.5 l3 1.5 l3 -2 l3 1.5 l3 -1.5 l3 1" fill="none" stroke="#2a3a3a" stroke-width="1"/>
<clipPath id="cbr"><path d="M443.5 286.2C439.9 285.6 438.6 283.2 436.2 281.3C433.8 279.4 430.6 277.6 428.9 274.8C427.1 272 425.8 268.1 425.7 264.3C425.6 260.5 426.4 255.8 428.1 252.2C429.9 248.5 434 245 436.2 242.4C438.4 239.8 440 239.2 441.1 236.6C442.2 234 441.9 230.2 442.7 226.9C443.5 223.7 444.3 220.3 445.9 217.1C447.5 213.8 449.3 210.6 452.4 207.4C455.5 204.2 460.6 200.5 464.6 197.7C468.7 194.9 473.3 192.6 476.7 190.4C480.1 188.2 480.8 186.2 484.8 184.7C488.9 183.2 495.8 182 501 181.5C506.2 181 511 181.5 516.2 181.5C521.4 181.5 527.7 181 532.4 181.5C537.1 182 540.5 183.3 544.6 184.7C548.7 186 552.7 188 556.7 189.6C560.8 191.2 565.9 192.9 568.9 194.4C571.9 195.9 572 196.1 574.6 198.5C577.2 200.9 581.6 205.9 584.3 209C587 212.1 589.2 214.4 590.8 217.1C592.4 219.8 593.2 221.7 594 225.2C594.8 228.7 595.6 234.4 595.6 238.2C595.6 242 595.1 244.9 594 247.9C592.9 250.9 591.3 253.6 589.1 256C586.9 258.4 584 260.9 581 262.5C578 264.1 573.6 264.9 571.3 265.8C569 266.7 568 266.2 567 268C566 269.8 565.9 273.5 565.4 276.5C564.9 279.5 564.8 283.4 563.7 286.2C562.6 289 561 291.2 558.9 293.5C556.8 295.8 554.2 298.2 550.8 300C547.4 301.8 542.6 303.1 538.6 304C534.6 304.9 530.5 305.5 526.5 305.6C522.5 305.7 517.4 305.2 514.3 304.8C511.2 304.4 510.4 304.3 508 303.5C505.6 302.7 503 301.8 500 300C497 298.2 494.2 295.2 490 293C485.8 290.8 480.3 288.3 475 287C469.7 285.7 463.2 285.1 458 285C452.8 284.9 447.1 286.8 443.5 286.2Z"/></clipPath>
<clipPath id="ccb"><path d="M442.6 288C441.8 290.5 441.8 292.3 442.6 295C443.5 297.7 445.7 301.6 447.7 304.3C449.7 307 452.1 309.8 454.8 311.3C457.6 312.8 460.8 313.1 464.2 313.2C467.6 313.3 472 312.7 475 312C478 311.3 480 311.1 482.1 309C484.2 306.9 486.5 303.1 487.7 299.6C488.9 296.2 489.4 291.7 489.1 288.3C488.8 284.9 487.8 281.8 486 279C484.2 276.2 481.9 272.8 478.3 271.4C474.7 270 468.1 270 464.2 270.5C460.3 271 457.8 272.9 455 274.5C452.2 276.1 449.8 277.6 447.7 279.9C445.6 282.1 443.5 285.5 442.6 288Z"/></clipPath>
<path d="M483.5 286 L483.8 308.6 L484.3 331.5 L497.6 331.5 L497 319 L498.9 313.4 L503.1 308.6 L508.6 299.6 L516.9 294.1 L520.5 288 L521 284 L500 282Z" fill="#fff"/>
<path d="M443.6 285.7 L441 283.9 L438.6 282 L435.4 280.7 L433.4 277.9 L431.2 275.7 L428.8 273.7 L427.8 270.7 L427.4 267.5 L426.5 264.3 L426.1 261.4 L427.4 258.5 L428 255.5 L428.3 252.3 L430.5 250 L432.9 247.8 L434.7 244.9 L436.6 242.7 L439.6 240.7 L441.5 238.1 L441.7 234.7 L443.1 231.5 L443.7 228.3 L443.7 225.1 L444.6 222.2 L446.2 219.6 L447.2 216.7 L447.8 213.6 L450.3 211.5 L452.5 209.1 L454.1 206.5 L456.4 204.5 L459.4 203.1 L461.8 200.9 L463.8 198.4 L466.9 197.4 L469.7 195.9 L472 193.7 L474.7 192.3 L477.4 191.4 L480.1 189 L481.7 186.4 L485.1 185.7 L487.7 185.1 L490.5 183.8 L493.6 183.1 L497 183.3 L500.1 182.6 L503.1 181.3 L506.1 182.2 L509.1 182.6 L512.1 182.1 L515.2 181.9 L518.2 182.7 L521.4 182.5 L524.5 181.5 L527.6 182.1 L530.5 182.6 L533.4 182.5 L536.7 182.5 L539.4 184.2 L542.2 185.2 L545.4 185.4 L548.1 186.7 L550.6 188.4 L553.5 189.3 L556.7 189.6 L559.3 191.7 L562.3 193 L565.4 193.5 L568 194.4 L570.2 196.5 L572.1 197.8 L574.9 199.3 L576.7 201.6 L578.4 204.4 L581 206.5 L583.6 208.4 L585 211.6 L587 213.9 L589.4 215.7 L590.7 218.4 L591.5 221.3 L592.9 224.1 L594.2 227 L593.8 230.1 L594.1 233.3 L595.1 236.3 L594.8 239.4 L594 242.6 L593.9 245.7 L593.4 248.8 L591.2 251.1 L589.6 253.6 L588.2 256.5 L585.6 258.2 L582.9 259.8 L580.6 261.8 L577.9 263.4 L574.5 263.5 L571.7 264.4 L568.6 266.5 L565.8 268.5 L564.8 271.6 L565.1 275.3 L564.4 278.5 L563.4 281.8 L563.2 284.9 L562.6 288.1 L560.2 290.2 L558.1 292.7 L556.6 295.4 L554 297 L551.2 298.3 L548.7 300.1 L545.9 301.6 L542.5 301.8 L539.4 302.7 L536.6 304.3 L533.4 304.1 L530.4 304 L527.5 304.8 L524.4 305.3 L521.2 304.3 L518 304.1 L515.2 304.5 L512 303.7 L509.5 302.6 L506.5 302 L503.3 301.4 L500.6 299 L498.5 297.5 L495.7 296.3 L493.3 294.1 L490.6 291.8 L487.9 290.9 L484.9 290.4 L482.4 288.3 L479.4 287 L476.1 286.8 L473.2 286 L470.3 284.8 L467.1 284.6 L463.9 285.3 L460.9 284.2 L458 283.7 L454.5 284.6 L451.1 285 L447.9 284.8 L445.2 285.2Z" fill="#fff" stroke="#000" stroke-width="2.3" stroke-linejoin="round"/>
<path d="M483.8 308.6 L484.3 331.5 L497.6 331.5 L497 319 L498.9 313.4 L503.1 308.6 L508.6 299.6 L516.9 294.1 L520.5 288 L521 284" fill="#fff" stroke="none"/>
<g clip-path="url(#cbr)"><path d="M453.4 267.6C453.8 268 455 269.1 455.8 269.8C456.7 270.5 457.8 271 458.4 271.8C458.9 272.7 459 274.5 459.1 275M456.6 247C456.8 247.1 457.3 247.5 457.7 247.5C458.1 247.6 458.5 247.4 458.9 247.5C459.3 247.6 459.7 247.7 460.1 247.9C460.4 248.1 460.6 248.5 460.8 248.8C461 249.2 461.2 249.8 461.3 250M536.6 299.1C535.9 299.1 533.9 299.6 532.6 299.3C531.4 299 530.4 297.9 529.2 297.3C528.1 296.6 526.3 295.7 525.7 295.4M508.4 203.7C509 204.1 510.8 205.4 512.2 205.7C513.5 206.1 515.1 205.7 516.5 206C517.9 206.3 519.9 207.1 520.6 207.3M450.1 248C450.6 248 452 247.5 452.8 247.7C453.7 247.8 454.4 248.7 455.2 249.1C456 249.5 456.8 250.1 457.7 250.2C458.5 250.2 459.6 249.9 460.3 249.4C461 249 461.8 247.7 462.1 247.4M463.2 257.3C463.8 257.6 465.5 258.2 466.6 258.7C467.6 259.3 468.8 259.9 469.7 260.7C470.5 261.6 471.2 263.3 471.5 263.9M584.9 211.2C584.3 211.6 582.3 212.6 581.1 213.5C579.9 214.4 578.9 215.6 577.7 216.4C576.5 217.2 574.4 218.1 573.7 218.4M541.3 294.1C541.4 293.6 541.9 292.2 542.3 291.2C542.7 290.3 543 289.2 543.6 288.5C544.3 287.7 545.8 287.1 546.2 286.8M474.9 233.3C475.1 233.4 475.7 234 476.2 234.2C476.8 234.3 477.4 234.4 477.9 234.3C478.4 234.2 478.9 233.7 479.4 233.6C479.9 233.4 480.7 233.4 481 233.4M536.8 295.8C536.7 295.2 535.9 293.6 535.9 292.5C535.9 291.4 536.4 290.3 536.8 289.2C537.1 288.1 537.7 287.1 538.1 286C538.5 285 538.9 283.3 539.1 282.8M478 247.9C478.6 247.9 480.8 248.3 482 248C483.3 247.7 484.3 246.5 485.6 246C486.8 245.6 488.9 245.4 489.6 245.3M470.5 221.4C471 221.5 472.7 222 473.8 222.1C474.9 222.3 476.2 222 477.2 222.4C478.2 222.8 479.2 223.7 479.8 224.6C480.4 225.6 480.6 227.4 480.7 227.9M501.9 197.9C501.9 198.5 502.3 200.5 502 201.6C501.7 202.8 500.5 203.7 499.9 204.8C499.3 205.8 498.6 207.6 498.3 208.1M577.7 258.9C577 258.9 574.9 259.1 573.5 259.2C572 259.2 570.5 258.8 569.2 259.2C567.9 259.6 566.3 261.3 565.7 261.7M547.3 291C546.8 290.5 545 289.2 544.3 288.1C543.7 287 543.7 285.4 543.2 284.2C542.7 282.9 541.8 281 541.5 280.4M467.1 199.8C467.1 200.3 467 201.7 467 202.6C466.9 203.5 466.9 204.5 466.9 205.4C466.8 206.3 466.7 207.2 466.5 208.2C466.3 209.1 465.9 210 465.9 210.9C466 211.8 466.9 213 467.1 213.4M457.6 258.3C458 258.1 459.2 257.4 460 257.4C460.8 257.4 461.6 258.2 462.4 258.2C463.2 258.3 464.4 257.8 464.9 257.7M428.4 261.9C428.8 262.1 429.9 262.9 430.7 263C431.5 263.2 432.5 263 433.2 262.7C433.9 262.3 434.3 261.4 434.9 260.9C435.6 260.3 436.7 259.7 437.1 259.5M537.5 184.8C537.4 185 537 185.8 536.6 186.3C536.2 186.7 535.6 187 535.1 187.3C534.6 187.6 534.1 187.9 533.5 188.1C532.9 188.2 532.3 188.2 531.7 188.2C531.1 188.2 530.2 188 529.9 187.9M542.5 211.2C542.3 211.4 541.6 212 541.1 212.4C540.7 212.8 540.3 213.3 539.8 213.6C539.3 213.9 538.7 214.3 538.1 214.3C537.5 214.4 536.9 214 536.3 214.1C535.7 214.1 534.9 214.5 534.6 214.6M548.2 191.5C548 191.8 547.3 192.6 546.8 192.9C546.2 193.3 545.5 193.5 544.9 193.8C544.3 194.1 543.6 194.3 543.1 194.8C542.7 195.2 542.6 196.1 542.1 196.5C541.6 197 540.5 197.2 540.2 197.3M546.1 206.1C546.1 206.5 545.9 207.7 546.1 208.4C546.4 209 546.9 209.8 547.4 210.2C548 210.6 548.8 210.6 549.5 210.8C550.3 211.1 551.1 211.1 551.7 211.5C552.2 212 552.8 213 553 213.3M512.2 210.3C511.7 210.7 510.2 212 509.3 212.9C508.3 213.7 507.4 214.6 506.5 215.6C505.6 216.5 504.3 218 503.9 218.5M455 228.8C455.4 228.7 456.5 228.1 457.3 228C458.2 227.9 459.1 228 459.8 228.3C460.6 228.6 461.4 229.6 461.7 229.9M511.2 185C510.7 185.4 509.5 187.1 508.4 187.7C507.3 188.2 505.7 187.7 504.6 188.2C503.4 188.7 502 190.1 501.5 190.5M453.6 252.5C454.1 252.7 455.6 253.2 456.6 253.5C457.6 253.7 458.8 253.6 459.7 254.1C460.6 254.5 461.6 255.8 462 256.2M467 253C467.2 253.4 467.7 254.8 468.3 255.3C468.9 255.9 470 256 470.8 256.4C471.6 256.8 472.3 257.5 473.1 257.7C473.9 257.8 475.3 257.5 475.8 257.4M555.6 203.9C555.5 204.3 555.1 205.5 554.9 206.3C554.7 207.1 554.6 208 554.3 208.7C554 209.5 553.5 210.3 553 210.9C552.5 211.6 551.7 212 551.3 212.7C550.9 213.4 550.7 214.7 550.6 215.1M451.4 216.6C451.6 216.9 452 217.8 452.4 218.3C452.9 218.8 453.5 219.2 454.1 219.4C454.7 219.6 455.8 219.5 456.1 219.5M567.5 225.7C567.3 225.9 566.8 226.4 566.4 226.7C566 227 565.5 227.2 565.1 227.4C564.6 227.5 564.1 227.5 563.7 227.7C563.2 227.9 562.8 228.3 562.6 228.7C562.3 229.1 562.2 229.9 562.1 230.1M585.1 248.4C584.7 248.3 583.7 247.8 583 247.6C582.2 247.3 581.5 247.1 580.7 247C580 246.9 579.2 246.8 578.4 247C577.7 247.1 577 247.5 576.3 247.8C575.6 248.1 574.5 248.5 574.1 248.7M500.9 182.4C500.9 182.6 501 183.3 500.9 183.7C500.7 184.1 500.4 184.4 500.1 184.7C499.9 185.1 499.7 185.5 499.3 185.7C499 186 498.5 186.2 498.1 186.2C497.7 186.2 497.1 185.8 496.9 185.8M517.2 292C516.9 291.7 515.9 290.7 515.2 290.1C514.5 289.5 513.6 289 513 288.3C512.4 287.7 511.8 286.8 511.6 285.9C511.4 285.1 511.5 284 511.9 283.1C512.2 282.3 513.4 281.3 513.7 281M466.3 256.1C466.7 256.2 468.3 256 469.1 256.4C469.9 256.7 470.7 257.6 471.1 258.4C471.6 259.2 471.8 260.3 471.7 261.1C471.6 262 470.8 263.3 470.6 263.7M461.6 247.6C462.1 247.4 463.9 247 464.8 246.4C465.8 245.8 466.6 244.9 467.4 244C468.2 243.2 468.9 242.2 469.7 241.5C470.6 240.7 472.1 239.7 472.5 239.4M536.9 212.1C536.8 212.5 536.1 213.5 536.1 214.2C536 214.9 536.6 215.7 536.6 216.4C536.6 217.1 536.1 217.8 536.1 218.6C536 219.3 536.4 220.4 536.4 220.8M574.1 217.7C573.7 217.9 572.8 218.8 572.1 219.1C571.4 219.5 570.6 219.8 569.9 219.9C569.1 220 568.3 219.7 567.5 219.6C566.7 219.6 565.4 219.5 565 219.4M567.1 243.5C566.9 243.6 566.1 244.1 565.5 244.2C564.9 244.4 564.2 244.2 563.7 244.4C563.1 244.7 562.7 245.2 562.3 245.6C561.9 246.1 561.5 246.7 561.4 247.2C561.3 247.8 561.5 248.8 561.5 249.1M503.9 195.9C503.6 196.2 502.3 196.9 501.9 197.6C501.4 198.4 501.3 199.4 501.2 200.2C501.1 201.1 501.3 202 501.2 202.9C501.2 203.8 500.8 205.1 500.8 205.6M450.1 285.6C450.6 285.4 451.9 284.8 452.8 284.4C453.7 284.1 454.7 283.9 455.4 283.3C456.2 282.8 456.5 281.7 457.2 281.1C457.9 280.5 459.3 279.9 459.7 279.7M510.2 184.1C510.1 184.5 509.6 185.8 509.6 186.7C509.6 187.6 509.8 188.5 510.2 189.3C510.5 190.1 511.2 190.9 511.9 191.3C512.6 191.8 513.7 191.6 514.5 192C515.3 192.3 516.5 193.1 516.8 193.3M496.2 195.7C495.7 196.1 494.1 197.1 493.3 198.1C492.5 199 492.2 200.4 491.5 201.4C490.8 202.4 489.3 203.6 488.9 204M449.5 231C449.9 231.2 450.8 231.8 451.6 232C452.3 232.2 453.1 231.9 453.8 232.1C454.5 232.3 455.1 233 455.8 233.1C456.5 233.2 457.3 232.7 458 232.6C458.7 232.5 459.9 232.6 460.2 232.5M503.3 208.1C503.4 208.7 503.6 210.5 504.1 211.6C504.7 212.6 505.6 213.7 506.5 214.2C507.5 214.7 509.5 214.6 510.1 214.7M471.6 267.9C472 267.5 473.5 266.4 474 265.5C474.6 264.5 474.6 263.3 475 262.2C475.4 261.1 475.8 260 476.6 259.1C477.3 258.3 478.9 257.5 479.3 257.1M516.9 194.7C516.7 195.3 515.9 197.2 515.8 198.5C515.7 199.9 515.7 201.4 516.3 202.5C516.8 203.7 518.7 204.9 519.1 205.4M559.1 207.9C558.9 208.1 558.2 208.8 557.6 209.1C557 209.4 556.3 209.4 555.6 209.5C555 209.7 554.3 209.8 553.7 209.9C553 209.9 552 209.8 551.7 209.8M524.7 203.1C524.5 203.3 523.8 203.8 523.3 203.9C522.7 204.1 522.2 204.2 521.6 204.3C521.1 204.4 520.5 204.3 520 204.6C519.5 204.8 518.9 205.4 518.7 205.5M554.6 199C554.5 199.2 554.1 199.8 553.7 200C553.4 200.3 552.8 200.2 552.4 200.5C552.1 200.8 552 201.3 551.6 201.6C551.3 201.9 550.9 202.3 550.5 202.4C550.1 202.6 549.4 202.6 549.2 202.6M513.2 193.5C512.9 193.7 512 194.3 511.7 194.8C511.4 195.3 511.5 196.1 511.4 196.7C511.2 197.3 510.9 197.9 510.6 198.5C510.4 199.1 509.8 199.9 509.7 200.2M453 207.6C453.6 208.1 455.3 209.8 456.6 210.4C457.9 211.1 459.6 211.2 461 211.7C462.4 212.3 464.3 213.5 465 213.9M473.2 255.5C473.7 255.5 475.1 255.6 476.1 255.5C477 255.4 478 254.9 478.9 255C479.8 255.1 480.7 255.6 481.6 256.1C482.4 256.5 483.6 257.4 483.9 257.7M474.5 275.3C475.1 275.5 476.9 276.4 478.2 276.7C479.5 276.9 481 276.3 482.1 276.7C483.3 277.2 484.7 278.9 485.2 279.3M471.9 213.9C472.2 214.2 472.8 215.1 473.4 215.5C474 215.9 474.8 216.2 475.5 216.1C476.2 216.1 476.9 215.7 477.5 215.3C478.1 214.9 478.6 214.3 479.1 213.8C479.6 213.2 480.1 212.3 480.3 212M457.6 262.7C458 262.8 459.2 263.3 460 263.6C460.8 263.9 461.7 264 462.5 264.3C463.3 264.6 464.4 265.3 464.7 265.5M475.7 196.4C475.8 196.8 475.9 198.1 476.3 198.7C476.6 199.4 477.2 200.1 477.8 200.5C478.4 201 479.7 201.2 480.1 201.3M506.4 189.5C506.5 189.7 506.9 190.3 507.1 190.8C507.4 191.2 507.8 191.6 508 192C508.2 192.4 508.2 193 508.4 193.4C508.5 193.9 508.7 194.3 509 194.8C509.2 195.2 509.6 195.8 509.8 196M550.3 194.7C550.1 195.2 549.9 196.7 549.3 197.5C548.8 198.2 547.9 198.9 547.1 199.2C546.2 199.6 545.1 199.3 544.2 199.6C543.3 199.9 542 200.7 541.6 200.9M440.8 280.9C441.1 280.2 442.4 278.3 443 276.9C443.5 275.5 444.1 274 444.2 272.5C444.4 271 443.8 268.7 443.7 267.9M454.8 252.8C455.3 253 456.8 253.8 457.8 254C458.8 254.2 459.9 253.7 461 253.8C462 253.9 463 254.7 464.1 254.7C465.1 254.7 466.6 254 467.1 253.8M584.7 219.2C584.5 219.4 584 220.3 583.6 220.7C583.1 221.1 582.4 221.3 581.9 221.7C581.4 222.1 581.1 222.8 580.5 223.1C580 223.4 579 223.4 578.6 223.5M464.2 284.3C464.6 284.3 465.9 284.1 466.7 284.3C467.4 284.5 468.1 285.1 468.8 285.6C469.5 286 470.7 286.5 471 286.7M547.4 298.6C547.2 298.1 546.3 296.8 546.2 295.9C546 295 546.1 293.9 546.4 293C546.8 292.1 547.9 291.6 548.3 290.7C548.6 289.8 548.5 288.2 548.5 287.8M519.4 195.3C518.8 195.6 517 196.5 515.8 197C514.7 197.5 513.5 198.2 512.2 198.6C511 198.9 509 198.9 508.3 199M509 213.7C509.2 214.3 510 216.1 509.9 217.3C509.8 218.5 508.7 219.6 508.6 220.8C508.4 221.9 509 223.8 509 224.4M581.8 261.5C581.4 261.4 580.1 261.5 579.4 261.3C578.6 261 577.9 260.5 577.3 260C576.7 259.5 576.2 258.8 575.6 258.3C575 257.7 574.1 256.9 573.8 256.6M479.2 258.2C479.7 258.5 481.4 259.2 482.2 260C482.9 260.8 482.9 262.2 483.5 263.1C484.2 264.1 485.5 265.2 485.9 265.7M515.8 295C515.8 294.5 515.6 293 515.5 292C515.4 291.1 515.2 290.1 515.1 289.1C515 288.1 515.2 287.1 515.1 286.2C514.9 285.2 514.3 283.8 514.1 283.4M511.3 191C510.9 191.6 509.8 193.4 509 194.5C508.1 195.6 506.8 196.4 506.3 197.6C505.8 198.9 506 201.1 505.9 201.8M570.8 230.4C570.5 230.7 569.8 231.8 569.5 232.5C569.2 233.3 569 234.1 568.9 234.9C568.8 235.7 568.8 237 568.7 237.4M458.9 265.2C459.2 265.5 460.3 266.3 461 266.8C461.7 267.3 462.5 267.8 463.3 268.2C464.2 268.5 465.1 268.4 466 268.7C466.8 269.1 467.4 269.8 468.3 270.1C469.1 270.4 470.5 270.5 470.9 270.6M540.4 212C540.3 212.3 540 213.3 539.7 213.9C539.3 214.5 539 215.2 538.4 215.5C537.9 215.9 537.1 215.8 536.5 216.1C535.9 216.4 535.3 216.9 534.9 217.4C534.5 217.9 534.1 218.9 534 219.2M464 277.9C464.3 277.9 465.4 277.7 466.1 277.7C466.8 277.7 467.6 278.1 468.3 277.9C468.9 277.7 469.6 277.3 470.1 276.7C470.5 276.2 470.5 275.3 470.8 274.7C471.1 274.1 471.8 273.2 472 272.9M567.1 252.2C566.5 252.2 564.8 252.2 563.7 252.3C562.6 252.4 561.3 252.2 560.3 252.6C559.3 253.1 558.4 254 557.7 254.9C557.1 255.8 556.7 257.6 556.5 258.1M457 254.4C457.3 254.7 458.2 255.5 458.8 256C459.5 256.4 460.2 257 460.9 257.2C461.6 257.4 462.5 257.1 463.3 257.3C464.1 257.4 465.2 257.7 465.6 257.8" fill="none" stroke="#111" stroke-width="1.25" stroke-linecap="round"/>
<path d="M480.7 199.2C480.7 198.8 480.8 198.1 481 197.2C481.2 196.4 481.9 194.6 482.1 194.1M496.9 210.6C496.8 210.3 496.6 209.3 496 208.8C495.4 208.3 493.9 207.7 493.4 207.5M588 253.3C588.1 253.8 588.2 255.7 588.5 256.5C588.8 257.3 589.6 257.8 589.8 258.1M445.3 219.2C445 218.8 444.4 217.3 443.8 216.8C443.3 216.3 442.3 216.3 442 216.2M505.1 297.3C504.6 297.4 503 297.4 502.1 297.8C501.3 298.2 500.5 299.4 500.2 299.7M515.3 291.1C515.4 290.8 515.5 289.9 515.6 289.2C515.7 288.6 516 288.1 515.9 287.2C515.9 286.3 515.3 284.4 515.2 283.9M438.4 250.9C438.3 250.5 438.2 249.4 438 248.5C437.9 247.6 437.9 246 437.6 245.4C437.2 244.7 436.1 244.8 435.7 244.6M471.4 268.5C471.7 268.9 473.2 269.9 473.3 270.8C473.3 271.6 472 272.7 471.7 273.6C471.5 274.5 471.8 275.3 471.7 276C471.6 276.7 471.1 277.5 471 277.7M504.4 201.3C504.8 201.4 506 201.2 506.7 201.5C507.4 201.7 508.4 202.7 508.7 202.9M582.7 243.1C582.9 243.6 584 245.1 584 246.1C584 247.1 583 248.2 582.8 249.1C582.7 250.1 583.2 251.2 583.3 251.6M455.3 209.5C455.1 209.7 454.2 210.5 454 211.1C453.7 211.7 453.8 212.3 453.6 213.1C453.5 213.9 453 215.4 452.9 215.9M479.8 195.9C480.2 195.7 481.6 195 482.5 194.4C483.4 193.9 484.3 192.6 485.1 192.5C486 192.4 487 193.4 487.8 193.9C488.6 194.3 489.5 195.1 489.8 195.3M493.9 204.2C494.1 203.9 495.2 202.9 495.3 202.3C495.5 201.7 495.1 201.1 494.6 200.7C494.2 200.3 493.1 200.2 492.8 200.1M575.4 258C575.2 258.4 574.5 259.8 574.1 260.5C573.8 261.3 573.7 261.5 573.4 262.4C573 263.2 572.3 265.1 572.1 265.6M449.8 275.2C450 275 451.2 274.4 451.2 273.7C451.2 272.9 450.1 271.4 449.8 270.5C449.4 269.7 449.2 268.9 449.1 268.6M518.4 183.4C518.2 183 517.5 181.5 516.9 180.8C516.3 180.2 515.6 179.8 514.8 179.7C513.9 179.7 512.8 180.4 511.8 180.7C510.8 181 509.3 181.4 508.8 181.5M481.7 208.3C482.2 208.1 483.7 207.1 484.6 206.9C485.4 206.8 486.4 207.2 486.7 207.2M473.1 212.9C472.8 212.4 471.4 210.9 471.5 209.9C471.6 209 473.1 208 473.6 207.3C474.1 206.5 474.3 205.6 474.4 205.2M464 205C463.7 205.3 462 206 461.8 206.8C461.6 207.6 462.4 209.1 462.9 210C463.4 210.9 464.5 211.5 464.7 212.2C465 212.9 464.5 213.9 464.5 214.2M552.9 190.8C553.3 190.7 554.7 190.6 555.6 190.4C556.6 190.2 558 189.9 558.5 189.8M506.6 299.1C506.9 299.1 507.9 298.7 508.4 299.2C508.9 299.7 509.1 301 509.4 302C509.7 303 509.9 304.2 510.3 305.2C510.7 306.3 511.5 307.7 511.7 308.2M567.1 206.8C567.1 207.3 566.9 209 567.1 209.9C567.2 210.8 568.1 211.7 568.1 212.4C568.2 213.1 567.5 213.9 567.4 214.2M552.3 294C551.9 293.6 550.7 292.3 550 291.5C549.3 290.8 548.7 290.1 548.2 289.5C547.7 289 547.5 288.6 547 288.1C546.6 287.6 545.7 286.9 545.5 286.7M454.6 240.1C454.2 240 452.7 239.4 451.9 239.1C451 238.7 450.1 238.6 449.5 238C448.9 237.3 448.6 235.5 448 235C447.4 234.5 446.2 235 445.9 235M502.8 183.5C503.1 183.2 504.1 182.2 504.7 181.5C505.4 180.8 506.3 179.9 506.6 179.6M469.6 251.1C469.8 250.7 470.1 249.8 470.3 249.2C470.5 248.5 470.8 247.9 470.7 247.3C470.7 246.7 470.1 245.8 469.9 245.5M588.8 230.6C588.6 230.4 587.9 229.7 587.3 229.2C586.6 228.8 585.7 228.1 585 227.8C584.3 227.5 583.7 227.4 582.9 227.5C582.1 227.5 580.5 228.1 580 228.3M500.8 182.3C500.7 182.9 500.3 184.8 500.7 185.7C501.1 186.6 502.3 187.4 503.3 187.8C504.3 188.1 505.9 188.1 506.6 187.8C507.4 187.5 507.7 186.3 507.9 185.9M571.1 265.8C571.3 265.3 571.9 263.7 572.4 262.7C572.9 261.8 573.9 260.9 574 260.2C574.1 259.5 573.3 258.8 573.2 258.5M520.1 297.7C520.5 298 522.3 298.5 522.6 299.4C523 300.2 522.4 302.2 522.4 302.8M470 203C470.4 202.6 471.6 201.4 472 200.6C472.4 199.8 472.6 198.7 472.4 198C472.3 197.2 471.7 196.3 471.1 196C470.5 195.8 469.3 196.4 468.9 196.4M519.8 204.1C519.5 204.5 518.7 206 518.3 206.9C518 207.8 518.1 208.8 517.6 209.4C517.1 210 515.7 210.3 515.3 210.5M484.8 186.9C485 187.4 485.8 189.1 486.2 189.9C486.6 190.6 487.1 191.2 487.3 191.4M512 303.3C511.6 303.3 510.2 302.8 509.5 303C508.7 303.2 508 303.8 507.5 304.6C507 305.5 507.1 307.3 506.5 307.9C505.8 308.5 504.2 308.2 503.8 308.3M478.2 225.3C478.4 225 479 223.9 479.5 223.4C480 222.9 480.7 222.3 481.3 222.1C481.9 221.9 482.9 222.2 483.3 222.2M565.5 198.3C565.2 198.5 564.1 198.9 563.6 199.6C563.2 200.2 563.1 201.3 562.7 202.2C562.4 203.1 561.7 204.6 561.5 205.1M576.2 229.5C576.4 229.9 577.1 231.5 577.3 232.3C577.5 233.1 577.7 233.5 577.3 234.2C576.9 234.9 575.4 236.1 575 236.5M564.7 197.7C564.2 197.5 562.5 196.5 561.7 196.7C560.8 196.9 560.5 198.5 559.7 198.9C558.9 199.4 557.5 199.7 556.7 199.3C556 199 555.4 197.4 555.1 197M534.6 301.9C534.2 302.1 533.1 303.1 532.3 303.6C531.4 304 530.2 304.3 529.5 304.5C528.7 304.8 528.1 305 527.8 305.2M538.4 188.4C538.7 188 540 186.8 540.4 185.8C540.7 184.9 540.7 183.7 540.5 182.7C540.2 181.8 539 180.8 538.8 180.4M533.8 205.2C533.3 205.2 531.7 204.9 530.8 205.1C529.9 205.2 528.7 205.7 528.3 206.2C527.9 206.7 528.3 207.8 528.3 208.1M471.2 265.3C471 264.9 470.6 263.3 470.1 262.6C469.6 261.8 468.5 261.8 468.1 261C467.6 260.1 467.4 258.5 467.2 257.6C466.9 256.6 466.9 255.7 466.8 255.3M439.8 240.1C439.3 240.4 437.6 241.3 436.8 241.9C436.1 242.4 435.4 243.1 435.1 243.3M461.2 253.8C461.6 254 462.7 254.2 463.5 254.6C464.3 255 465.2 255.9 466 256.1C466.7 256.4 467.2 256.3 467.9 256.2C468.7 256.1 470.1 255.6 470.5 255.5M575.7 230C575.8 230.5 576.1 231.7 576 232.5C575.9 233.3 575.2 234.1 575 234.8C574.8 235.5 574.8 236.5 574.8 236.8M492.1 290.5C492.4 291 493.1 292.7 493.6 293.4C494.1 294 494.7 293.8 495.2 294.4C495.7 295 496.6 296.3 496.9 296.7M498.6 183.7C499.1 183.4 500.6 182.5 501.5 182C502.5 181.6 503.8 181.6 504.3 180.9C504.9 180.2 504.6 178.4 504.7 177.9M446.9 240C446.9 240.5 447 242.1 446.9 243C446.7 243.9 446 244.5 446 245.3C446 246.2 446.5 247.5 446.7 247.9M540 195.2C539.5 195.1 537.7 194.7 536.8 194.5C535.9 194.4 535 194.2 534.6 194.1M502.4 197.7C502.8 197.9 504.1 198.7 504.9 198.9C505.7 199.1 506.9 198.9 507.3 198.9M564.2 205.7C564.7 205.6 566.5 205.6 567.2 205.2C568 204.8 568.1 203.9 568.7 203.5C569.4 203.1 570.9 203 571.3 202.9M446.9 234C447.3 233.8 448.8 233.8 449.3 233.1C449.9 232.4 449.4 230.5 450 229.7C450.5 229 452.1 229 452.5 228.8M559.7 208.4C560.2 208.4 561.9 208.2 562.9 208.5C563.9 208.7 565.2 209.4 565.7 210C566.3 210.6 566.1 211.4 566 212C565.9 212.5 565.2 213.2 565.1 213.5M446.6 252.3C446.9 252.2 447.9 252.3 448.6 251.8C449.2 251.4 449.9 250.2 450.5 249.7C451.2 249.2 452 249.6 452.4 249C452.8 248.5 452.8 246.8 452.9 246.4M463.5 256.3C463.6 256.7 463.7 257.7 464.2 258.5C464.6 259.2 465.6 260.4 466.4 260.8C467.2 261.3 468.6 261.3 469 261.4M519.1 183.7C518.9 184 518.5 184.6 518.1 185.3C517.7 186 517 187 516.6 187.8C516.2 188.6 516.3 189.1 515.8 189.9C515.3 190.6 513.9 191.9 513.5 192.3M542.4 205.2C542.7 205 543.5 204.6 544.1 204.3C544.7 204 545.4 203.5 546 203.4C546.7 203.3 547.4 203.7 548.1 203.8C548.9 203.9 550 203.9 550.4 204M579.2 241.6C579.5 241.8 580.3 242.3 581 242.6C581.6 242.9 582.7 243.1 583.1 243.2M492.7 294.1C492.6 293.7 492.8 292.7 492.5 292.1C492.2 291.6 491.3 291.4 490.8 290.8C490.3 290.2 489.9 289.2 489.5 288.5C489 287.8 488.4 286.9 488.2 286.6M594.4 236.2C594.8 236.3 596.3 236.2 596.8 236.6C597.3 236.9 597.3 238.2 597.4 238.5" fill="none" stroke="#111" stroke-width="1.1" stroke-linecap="round"/></g>
<path d="M441 238 Q460 255 481 276 M450 284 Q463 272 481 266 M470 200 Q478 220 481 232 M566 268 Q545 262 530 270" fill="none" stroke="#222" stroke-width="1.1"/>
<path d="M442.6 288C441.8 290.5 441.8 292.3 442.6 295C443.5 297.7 445.7 301.6 447.7 304.3C449.7 307 452.1 309.8 454.8 311.3C457.6 312.8 460.8 313.1 464.2 313.2C467.6 313.3 472 312.7 475 312C478 311.3 480 311.1 482.1 309C484.2 306.9 486.5 303.1 487.7 299.6C488.9 296.2 489.4 291.7 489.1 288.3C488.8 284.9 487.8 281.8 486 279C484.2 276.2 481.9 272.8 478.3 271.4C474.7 270 468.1 270 464.2 270.5C460.3 271 457.8 272.9 455 274.5C452.2 276.1 449.8 277.6 447.7 279.9C445.6 282.1 443.5 285.5 442.6 288Z" fill="#fafafa"/>
<g clip-path="url(#ccb)"><path d="M441.8 288.1L451.6 289.5M443 287.9L448.1 289.3M441.9 289.5L459.5 290.3M443.6 291.4L456.1 289.4M443 293.8L454.4 294.7M443.1 292.5L457.4 293M442 293.6L457.9 292.8M444.1 297.7L457.6 298.7M444 299L454.4 299.6M446.3 298.4L452.4 296.5M447.4 301L458.5 297.2M446.9 302.4L455.5 300.5M448 305.5L460.4 303.9M450 306.9L460.1 300.5M451.1 308L464.4 302.5M451.9 306.9L464.1 302.1M451.8 307.7L465.1 305.2M452.4 311L459.4 305.3M454.2 312.1L463.8 302.4M456.7 310.3L465.6 303.6M459.1 313.4L467.3 309.7M458.9 311L465.2 303.9M460.2 312.3L466.6 305.2M461.3 314L467.3 310.7M465.4 312.8L470.6 307.7M466.4 313.3L472.2 307.7M469.1 312.8L473.7 308.3M468.8 312L475.7 304.2M471.5 310.9L475.1 306.6M471.8 312.5L474.6 305.7M475.4 311.9L478.2 305.5M476.8 312.2L477.4 309.5M477.9 312.4L479.4 308.5M478.8 310L480 305.8M479.3 310.3L480.5 306.5M481.7 308.1L483.4 303.8M481.5 308.2L482.3 302.4M482.1 307.2L482.4 302.3M483.4 305.4L484.2 300.6M486 303.3L486.2 300.9M487 302.6L486.4 300.7M486.9 300.2L487 297.4M486.8 298.9L486.7 296.5M488.9 297.3L488.3 296.5M489 295.1L488.4 294.5M488.2 293.7L487.2 293.2M487.1 293.4L486.9 292.8M488.7 291.5L487.7 291.8M489.8 289.3L488.7 290.1M488 286.3L487.8 287.4M488.3 284.6L488.1 287.3M488.8 284.2L487.2 286.9M488.2 282.3L487.8 283.5M485.5 279.9L485.6 283.6M485.7 280.3L486.1 283.7M484 278.8L484 282.2M483 275.6L483.1 280.1M481.2 276.1L482.1 282.3M481.8 272.5L482 278.4M478.2 272L479.7 275.9M478.1 271.3L482.4 277.4M474.6 270.1L477.1 273.1M475 272.2L476.6 275M470.7 270.4L473.7 275.3M469.2 270.4L472.4 273.9M465.4 270.8L472.4 277.2M462.9 269.5L467.8 274.8M463.5 270.8L470.8 278.6M460.9 271.5L466.8 277.4M459.4 273.1L466.5 276.9M458.2 273.8L462.2 276.2M456.3 275L468 280.8M456.2 275.4L462 278.5M452.7 276.3L461.7 283M453.4 276.8L463.9 282.1M450.2 277.5L454.8 278.4M451 276.7L456.4 277.9M450.1 278L454.2 280.6M446.6 280.9L458 286.3M448.2 281.5L461.7 282M446.8 282.6L459.7 283.1M445.9 285.3L451.5 285.7M444.5 286.3L452.4 286.1M442.7 287L457.1 287.9M477.5 295.3L473 297M482.6 292.8L477.2 294M483.7 282.9L482 276.3M477.6 303.7L473.6 309.2M476 286.7L471.2 284.2M469.3 284.9L465.8 283.5M479.4 306L476.1 312.8M476 291.5L469.4 291.2M481.6 297.2L479.1 300.3M478.6 290.2L474.5 289.2M469.5 282.3L465.6 280M478.1 286.9L472 282.9M479.4 290.4L475.4 289.4M483.5 302.3L482.3 307.1M480.8 298.7L478 302.4M482.7 288.8L477 283.3M473.2 292.7L467.9 293M476 278.5L472.6 273.8M471 292.8L463.8 293.2M471.4 296.2L463.9 298.3M479.9 292.6L475.7 292.9M474.4 283.9L468 279.5M482.5 286.7L480.3 283.4M481.8 295.4L476.7 299.4M476.2 276.7L473.9 273.1M482 285.5L479.3 281.1M483.2 289.9L480.4 287.8M481.7 286.2L478.8 282.3M472.2 288.9L469.2 288.2M477.2 296.4L472.3 298.8M477.4 301.1L472 306.7M474.7 295.5L471.3 296.6M474.7 300.2L471.8 302.3M477.4 275.8L475.7 272.7M483.1 283.8L480.8 277.3M480.5 287.2L475.7 283M471 285.1L467.1 283.3M471.4 279.4L466.5 275.3M482 291.6L476.5 291M472.3 298L466.5 300.6" stroke="#1a1a1a" stroke-width="0.8" fill="none" stroke-linecap="round"/></g>
<path d="M442.2 287.9 L440.8 291 L441.6 294.1 L442.9 296.9 L443.7 300.2 L446 302.8 L447.8 305.7 L449.8 308.6 L453 310.2 L455.4 312.7 L458.6 313.7 L462 313.2 L465.3 314.4 L468.7 313.8 L472.1 313.2 L475.3 313.2 L478.5 311.6 L481.7 310.4 L484.3 308.3 L485.4 304.9 L487.9 302.1 L488.9 298.9 L488.9 295.6 L490.3 292.4 L490 289.2 L489.2 286 L489.1 282.5 L487 279.7 L485.4 276.9 L483.7 273.9 L480.4 272.3 L477.7 270.2 L474.7 269.4 L471.3 270.1 L468 269.2 L464.9 269.3 L462 270.9 L458.7 271.2 L456.1 272.6 L454.1 275 L450.9 275.8 L448.4 277.7 L446.9 280.6 L444 282.8 L442.6 285.9Z" fill="none" stroke="#000" stroke-width="2.3"/>
<path d="M484 300 L484.3 331" stroke="#2a2a2a" stroke-width="3" fill="none"/>
<path d="M520.5 288.5C519.9 289.4 518.9 292.2 516.9 294.1C514.9 296 510.9 297.2 508.6 299.6C506.3 302 504.7 306.3 503.1 308.6C501.5 310.9 499.9 311.7 498.9 313.4C497.9 315.1 497.2 316 497 319C496.8 322 497.5 329.2 497.6 331.3" fill="none" stroke="#000" stroke-width="2.4"/>
<path d="M494.5 318 L494.8 331" stroke="#999" stroke-width="1" fill="none"/>
<clipPath id="mb"><rect x="481.6" y="216.3" width="83.1" height="72"/></clipPath>
<g clip-path="url(#mb)"><rect x="481.6" y="216.3" width="83.1" height="72" fill="#fff"/><g transform="translate(481.6 216.3) scale(0.3737 0.3764) translate(-743.9 -68.6)"><path d="M745.5 109 Q752 88 780 71" fill="none" stroke="#111" stroke-width="2.25" stroke-linecap="round"/>
<path d="M751.3 70.5 Q753 80 759 83.5" fill="none" stroke="#111" stroke-width="2.25" stroke-linecap="round"/>
<path d="M749.6 119.1 Q765 109 778.2 112.3 L780.5 118.5" fill="none" stroke="#111" stroke-width="2.25" stroke-linecap="round"/>
<path d="M778.5 112.5 Q793 100 794.2 86.5" fill="none" stroke="#111" stroke-width="2.25" stroke-linecap="round"/>
<path d="M745.4 133.4 Q756 137 760.5 150.3" fill="none" stroke="#111" stroke-width="2.25" stroke-linecap="round"/>
<path d="M801 70.5 L802.3 76" fill="none" stroke="#111" stroke-width="2.25" stroke-linecap="round"/>
<path d="M843 70.4 Q852 73 864 71.5" fill="none" stroke="#111" stroke-width="2.25" stroke-linecap="round"/>
<path d="M864 72 L865 80.6" fill="none" stroke="#111" stroke-width="2.25" stroke-linecap="round"/>
<path d="M876 72 L877 77" fill="none" stroke="#111" stroke-width="2.25" stroke-linecap="round"/>
<path d="M916.6 70 L916.6 74" fill="none" stroke="#111" stroke-width="2.25" stroke-linecap="round"/>
<path d="M952.2 82.2 Q960 88 963.6 96.8" fill="none" stroke="#111" stroke-width="2.25" stroke-linecap="round"/>
<path d="M909.8 180.2 Q920 186 930 185.3 Q938 178 946 173 Q955 169 964.5 168.4" fill="none" stroke="#111" stroke-width="2.25" stroke-linecap="round"/>
<path d="M930.8 185.3 Q936 189 951 189.5" fill="none" stroke="#111" stroke-width="2.25" stroke-linecap="round"/>
<path d="M915.7 211.4 Q930 213 946.8 212.2 Q956 209 964.5 203.8" fill="none" stroke="#111" stroke-width="2.25" stroke-linecap="round"/>
<path d="M946.8 212.2 Q953 220 954.4 229.9" fill="none" stroke="#111" stroke-width="2.25" stroke-linecap="round"/>
<path d="M918.2 229.9 Q928 225 939.2 224" fill="none" stroke="#111" stroke-width="2.25" stroke-linecap="round"/>
<path d="M855 251 Q880 248 905.5 239.2 Q911 236 914 233.3" fill="none" stroke="#111" stroke-width="2.25" stroke-linecap="round"/>
<path d="M869.3 246 L876.9 237.5" fill="none" stroke="#111" stroke-width="2.25" stroke-linecap="round"/>
<path d="M932.5 257.7 L939.2 244.3" fill="none" stroke="#111" stroke-width="2.25" stroke-linecap="round"/>
<path d="M745.4 206.9 Q760 210.5 777 206.5" fill="none" stroke="#111" stroke-width="2.25" stroke-linecap="round"/>
<path d="M893.9 155.1 Q930 150 964.4 145.4" fill="none" stroke="#111" stroke-width="2.25" stroke-linecap="round"/>
<path d="M803.5 157 Q809 146 817.8 139.3" fill="none" stroke="#111" stroke-width="2.25" stroke-linecap="round"/>
<path d="M880 119 L882 123" fill="none" stroke="#111" stroke-width="2.25" stroke-linecap="round"/>
<path d="M951.9 258 L955 251.5 L960 253 L964.5 249 L964.5 258Z" fill="#000"/>
<path d="M826.3 129.2C829.1 129.1 838.3 128.5 843.1 128.8C847.9 129.1 851 129.4 855 130.8C859 132.2 863.4 134.9 867.2 137.3C871 139.7 874.6 142.4 877.7 145.4C880.8 148.4 884.4 153.5 885.8 155.1" fill="none" stroke="#111" stroke-width="2.33"/>
<path d="M816.2 137.6C819.3 137.3 828.2 135.8 834.7 136C841.2 136.2 850 137.3 855 138.9C860 140.5 861.7 142.7 864.7 145.4C867.7 148.1 870.9 152.7 872.8 155.1C874.7 157.5 875.5 159.2 876 160" fill="none" stroke="#111" stroke-width="2.33"/>
<path d="M846.5 161.5 A8.5 8.5 0 1 0 850.5 174" fill="none" stroke="#222" stroke-width="2.79"/>
<path d="M781.6 189.5C780.9 190.2 779.4 192.6 777.4 193.7C775.4 194.8 772.6 196.2 769.8 196.2C767 196.2 763 195.5 760.5 193.7C758 191.9 755.9 188.8 754.6 185.3C753.4 181.8 752.7 176.8 753 172.6C753.3 168.4 753.9 164.7 756.3 160C758.7 155.3 762.7 150.2 767.3 144.4C771.9 138.6 778.5 130.6 784.1 125C789.7 119.4 795.4 114.8 801 110.7C806.6 106.6 812.2 103.5 817.8 100.5C823.4 97.5 829.1 95 834.7 93C840.3 91 844.1 89.8 851.5 88.8C858.9 87.8 870.6 87.1 879.3 87.1C888 87.1 895.5 87.6 903.6 88.7C911.7 89.8 921.2 91.8 928 93.6C934.8 95.3 939.8 97 944.1 99.2C948.4 101.4 951.7 103.7 953.9 106.5C956.1 109.3 957.1 112.7 957.1 116.2C957.1 119.7 956.1 124.2 953.9 127.6C951.7 131 948.4 134.1 944.1 136.5C939.8 138.9 933.4 140.4 928 142.2C922.6 143.9 916.4 145.2 911.7 147C907 148.8 903.1 151.1 899.6 152.7C896.1 154.3 892 155.9 890.5 156.5C891.1 155.1 892 150.3 893.9 147.8C895.8 145.3 898.8 143.7 902 141.4C905.2 139.1 910.7 136.8 913.3 134.1C915.9 131.4 917.2 127.9 917.4 125.2C917.5 122.5 916.5 119.9 914.2 117.9C911.9 115.9 909.4 114 903.6 113C897.8 112 887.4 111.8 879.3 112.2C871.2 112.6 862.4 113.6 855 115.4C847.6 117.2 840.9 120 834.7 123.3C828.5 126.6 822.7 130.6 817.8 135.1C812.9 139.6 808.7 145.5 805.2 150.3C801.7 155.1 798.9 159.3 796.8 163.7C794.7 168.1 794.3 173.2 792.6 176.9C790.9 180.6 788.5 184 786.7 186.1C784.9 188.2 782.5 188.9 781.6 189.5Z" fill="#fff" stroke="#000" stroke-width="5.58" stroke-linejoin="round"/>
<path d="M888.7 161.2 C882 159.5 875 163.5 874.4 171 C874 176 879 178.5 883.6 178.5 C884.5 182 885.5 190 887 197.5" fill="none" stroke="#000" stroke-width="5.42" stroke-linecap="round" stroke-linejoin="round"/>
<path d="M893.8 157 C891 170 891.5 180 892.9 189.5 C894 195 896 200 898.8 203.8" fill="none" stroke="#000" stroke-width="5.42" stroke-linecap="round" stroke-linejoin="round"/>
<path d="M789.2 185.3 C795 186 800 187 802.7 188.7 C805 190 806 192 809.4 192 C815 190 820 189 826.3 189.5 C835 190 842 196 851.5 203.5 C858 208 862 209.5 867.6 210.5 C874 211 878 210 880.3 208.9 C881 206 884 203.5 890.4 203 C894 204 895.5 208 897.1 212.2 C899 215 901 217 902.2 217.3" fill="none" stroke="#000" stroke-width="5.42" stroke-linecap="round" stroke-linejoin="round"/>
<path d="M902.2 217.3 C905 213 908 209.5 912 209.5 C915.5 210.5 916.5 214.5 914.5 218 C912 220.5 908 220 905 218.5" fill="none" stroke="#000" stroke-width="5.42" stroke-linecap="round" stroke-linejoin="round"/>
<path d="M855 217.3 C865 219 875 220 880.3 221.5 C884 223 886 226 887 230 C888 233 890 236 894 236.5 C898 237 903 237 907 234 C910 231 910.6 229 909.5 226.5 C907 224.5 904 224 900 224.5 C896 224 893 221 891 218" fill="none" stroke="#000" stroke-width="5.42" stroke-linecap="round" stroke-linejoin="round"/>
<path d="M889 212 C893 213 898 214.5 902 219" fill="none" stroke="#000" stroke-width="5.42" stroke-linecap="round" stroke-linejoin="round"/>
<ellipse cx="785.8" cy="192.4" rx="3.4" ry="4.4" fill="#fff" stroke="#000" stroke-width="4.03"/>
<path d="M778.2 196.5 Q787 198.5 795.9 195.4" fill="none" stroke="#000" stroke-width="5.42" stroke-linecap="round" stroke-linejoin="round"/>
<path d="M784.1 199 C781.6 210.6 779.6 227.4 776 240.1 C772 248 765 253.5 757 258" fill="none" stroke="#000" stroke-width="5.58" stroke-linecap="round"/>
<path d="M745.4 217.3 C755 219 763 222 767.3 227.4 C773 232 775.5 238 775 243" fill="none" stroke="#000" stroke-width="4.96"/>
<path d="M804 198 Q801 207 797.5 214" fill="none" stroke="#000" stroke-width="6.51" stroke-linecap="round"/>
<path d="M796.5 212 L780 256 M793.5 212 L778 256" fill="none" stroke="#333" stroke-width="1.40" stroke-dasharray="3 1.5"/>
<path d="M752 230 l1.2 -3" stroke="#555" stroke-width="1.71"/>
<path d="M756 236 l1.2 -3" stroke="#555" stroke-width="1.71"/>
<path d="M751 243 l1.2 -3" stroke="#555" stroke-width="1.71"/>
<path d="M754 249 l1.2 -3" stroke="#555" stroke-width="1.71"/>
<path d="M760 232 l1.2 -3" stroke="#555" stroke-width="1.71"/>
<path d="M748 238 l1.2 -3" stroke="#555" stroke-width="1.71"/>
<path d="M758 244 l1.2 -3" stroke="#555" stroke-width="1.71"/>
<path d="M765 247 l1.2 -3" stroke="#555" stroke-width="1.71"/>
<path d="M824.6 224.5C824.8 223.1 828.6 220.1 831 218C833.4 215.9 836.4 213.3 838.9 212.2C841.4 211.1 843.8 211.3 846 211.5C848.2 211.7 850.3 212.7 852 213.5C853.7 214.3 855.5 215.1 856 216.5C856.5 217.9 855.6 219.4 855 222C854.4 224.6 852.9 228.2 852.5 232C852.1 235.8 852.3 240.7 852.5 245C852.7 249.3 855.1 255.8 853.5 258C851.9 260.2 844.9 260.2 843.1 258C841.3 255.8 842.8 248.7 842.5 245C842.2 241.3 842.5 238.4 841.4 235.8C840.3 233.2 837.9 231.1 836 229.5C834.1 227.9 831.9 227.3 830 226.5C828.1 225.7 824.4 225.9 824.6 224.5Z" fill="#000"/>
<path d="M836 219 L846 215.5 M846.5 228 L847.5 255" stroke="#fff" stroke-width="1.40" fill="none"/></g></g>
<rect x="481.6" y="216.3" width="83.1" height="72" fill="none" stroke="#1a1a1a" stroke-width="1.8"/>
<rect x="473.2" y="398.5" width="74.5" height="61.9" fill="none" stroke="#000" stroke-width="3"/>
<rect x="743.9" y="68.6" width="222.4" height="191.3" fill="#fff"/>
<clipPath id="bb"><rect x="743.9" y="68.6" width="222.4" height="191.3"/></clipPath>
<g clip-path="url(#bb)"><use href="#bd"/></g>
<rect x="743.9" y="68.6" width="222.4" height="191.3" fill="none" stroke="#000" stroke-width="3.2"/>
<rect x="820.2" y="391.9" width="259.5" height="268.4" fill="#fff"/>
<clipPath id="tb"><rect x="820.2" y="391.9" width="259.5" height="268.4"/></clipPath>
<g clip-path="url(#tb)">
<path d="M917.6 652 L990.6 652 L989 661 L919 661Z" fill="#ececef" stroke="#111" stroke-width="1.4"/>
<path d="M916 596 C935 600 965 600 999 596 C1001 615 1001 635 997.6 648 C993 652 975 653 955 653 C935 653 918 652 911 649 C908 635 907.8 615 909.2 602 Z" fill="#ececf0" stroke="#111" stroke-width="1.6"/>
<path d="M912 606 C935 609 970 609 998 606" fill="none" stroke="#fff" stroke-width="2" opacity="0.8"/>
<path d="M918 468 L985 468 L982 600 L918 600Z" fill="#e3e4e7" stroke="#222" stroke-width="1"/>
<path d="M938 565 Q950 555 962 565 L966 600 L934 600Z" fill="#cfd0d4" opacity="0.6"/>
<path d="M919.4 469.6 C940 473 962 473 981.3 469.6 L978.8 480.5 C960 483 942 483 924.5 480.5Z" fill="#ededee" stroke="#111" stroke-width="1.3"/>
<path d="M888 392C889.5 395.9 894 407.2 896.7 415.3C899.4 423.4 901.5 433 904.2 440.6C906.9 448.2 909.9 455.8 913.1 460.8C916.3 465.9 919.4 468.4 923.2 470.9C927 473.4 930.3 474.9 935.8 476C941.3 477.1 949.8 477.6 956.1 477.2C962.4 476.8 968.8 475.3 973.8 473.4C978.8 471.5 982.6 469.6 986.4 465.8C990.2 462 993.3 457 996.5 450.7C999.7 444.4 1003.3 435.3 1005.4 427.9C1007.5 420.5 1008.1 412.4 1009.2 406.4C1010.3 400.4 1011.7 394.4 1012.2 392L1012.2 380 L888 380Z" fill="#e6e7e9"/>
<path d="M931 396 C936 410 942 425 945 442 L949 442 C946 425 942 408 936 396Z" fill="#c9cacd"/>
<path d="M968 396 C962 410 958 425 957 442 L953 442 C955 425 958 408 963 396Z" fill="#c9cacd"/>
<path d="M941 398 Q951 420 951 470" fill="none" stroke="#f4f4f5" stroke-width="3"/>
<path d="M888 392C889.5 395.9 894 407.2 896.7 415.3C899.4 423.4 901.5 433 904.2 440.6C906.9 448.2 909.9 455.8 913.1 460.8C916.3 465.9 919.4 468.4 923.2 470.9C927 473.4 930.3 474.9 935.8 476C941.3 477.1 949.8 477.6 956.1 477.2C962.4 476.8 968.8 475.3 973.8 473.4C978.8 471.5 982.6 469.6 986.4 465.8C990.2 462 993.3 457 996.5 450.7C999.7 444.4 1003.3 435.3 1005.4 427.9C1007.5 420.5 1008.1 412.4 1009.2 406.4C1010.3 400.4 1011.7 394.4 1012.2 392" fill="none" stroke="#111" stroke-width="1.4"/>
<path d="M890.8 444.9 L893.6 445.9 L896.3 446.9 L898.7 447.8 L901.3 450.4 L903.5 453.4 L906.1 454.7 L907.1 457.1 L908.2 459.5 L910 461.3 L910.9 463.7 L913.1 465.3 L913.8 467.8 L915.3 469.8 L917 472.6 L919.1 475.2 L921.7 477.3 L923.2 479.5 L924.8 481.7 L925.8 484.3 L927.7 486.2 L930.1 487.8 L931.2 490.4 L933.6 491.9 L934.9 494.4 L937.1 495.9 L939 497.7 L939.9 500.4 L942.3 501.7 L944.5 503.9 L946.1 506.8 L949 509 L951.1 507.4 L953.8 507.4 L956 506 L958.2 504.5 L959.7 502.3 L962.5 501.4 L964.2 498.8 L966.5 496.8 L968.4 494.3 L969.4 491.7 L971.2 489.6 L972.6 487.3 L974.2 485.1 L975.8 483 L977.4 480.9 L979.1 478.9 L979.7 476.2 L981.9 474.4 L982.8 471.9 L984.2 469.7 L986.2 467.9 L987.2 465.5 L988.4 463.2 L990 461.2 L992 459.1 L993 456.2 L995.8 454.7 L996.6 451.4 L999.5 450.8 L1001.9 449.3 L1003.8 446.7 L1006.7 447.3 L1009.3 446.3 L1012 446.1 L1015.4 447.4 L1018.5 449.7 L1020.1 452.6 L1020.9 456 L1023.5 458.3 L1024.4 461.5 L1025.8 464.5 L1027.4 467.3 L1029.4 469.6 L1030.6 472.3 L1031.6 475 L1032.4 477.8 L1033.8 480.1 L1033.4 482.7 L1033.8 485.2 L1034.2 487.6 L1035.8 490 L1034.6 492.6 L1035.9 495.1 L1035.6 497.6 L1035.3 500.2 L1034.9 502.8 L1035.8 505.3 L1034.8 507.9 L1035.1 510.6 L1035.2 513.2 L1034.9 515.9 L1034.9 518.5 L1034.8 521.3 L1034 523.9 L1032.5 526.3 L1031.4 528.8 L1031.8 531.7 L1031.2 534.4 L1029.3 536.7 L1029.2 539.5 L1028.6 542.1 L1027.8 544.8 L1026.4 547.3 L1025.1 549.8 L1024.6 552.6 L1023.6 555.2 L1023.1 558 L1021 560.1 L1020.7 563 L1018.7 565 L1016.9 567 L1016.3 569.8 L1014.2 571.7 L1012.6 573.8 L1011.5 576.3 L1010 578.5 L1009.1 581.4 L1007.1 583.4 L1005.8 586 L1003.3 587.8 L1002.3 590.5 L1000.4 592.8 L997.7 593.6 L995.5 595.4 L993.6 596.7 L990.6 596.4 L987.8 595.5 L985.1 594.2 L982.2 593.6 L979.2 592.9 L977.5 590.7 L975.5 588.8 L974 586.5 L972.9 583.8 L970.9 581.9 L968.6 580.2 L966.5 578.4 L964.3 576.5 L962 574.7 L960.8 572.3 L960 569.7 L958.7 567.4 L956.7 565.5 L955.7 562.9 L952.9 561.1 L949.8 559.4 L947 560.5 L944 561.6 L942.8 564.2 L940.7 566.1 L939.4 568.7 L937.5 570.8 L935.5 572.8 L933.9 575.1 L932.7 577.7 L930.3 579.4 L928.9 581.9 L927.3 584.2 L924.9 586.3 L921.8 587 L919.3 588.7 L917.4 590.5 L916.2 592.7 L914.4 594.6 L913.3 596.7 L910.4 597.4 L907.8 599 L905 599.6 L903.2 597.5 L901.3 595.5 L898.9 594 L897.4 591.5 L895.5 589.6 L893.9 587.6 L892.9 585.3 L891.4 583.2 L889.5 581.4 L888.1 579.3 L886.3 577.5 L885.7 574.9 L884.4 572.7 L882.6 570.6 L881.7 568 L880.5 565.5 L879.2 563.1 L877.3 561 L876.8 558.1 L875.3 555.8 L874.2 553.3 L873 550.8 L872.5 548.1 L871.8 545.4 L870.8 542.8 L870 540.2 L868.2 537.8 L867.6 535.2 L866.7 531.6 L865.8 528.1 L865.1 525.5 L865.5 522.9 L865.3 520.3 L864.3 517.8 L864.8 515.2 L864.3 512.6 L863.9 509.9 L864.3 507.4 L864.8 505 L864.9 502.5 L865.1 500 L865.2 497.4 L866.1 495 L866.3 492.5 L867.1 490.1 L867.4 487.6 L867.3 485.1 L868.7 482.7 L867.8 480.1 L868.8 477.7 L869.4 474.7 L870.3 471.8 L870.7 468.8 L872.4 466.2 L873.1 463.3 L874 460.6 L876 458.3 L876.6 455.4 L879.1 453.2 L880.9 450.4 L883 448.1 L885.9 447.5 L888.4 446.2Z" fill="#f2c88c"/>
<g><ellipse cx="889.4" cy="578" rx="3" ry="1.3" fill="#f6d6a6" opacity="0.55" transform="rotate(31.9 889.4 578)"/><ellipse cx="984.3" cy="557.2" rx="3.8" ry="1.7" fill="#e5b070" opacity="0.55" transform="rotate(36.1 984.3 557.2)"/><ellipse cx="892.6" cy="483.7" rx="3.6" ry="1.3" fill="#f6d6a6" opacity="0.55" transform="rotate(33.9 892.6 483.7)"/><ellipse cx="996.8" cy="505.5" rx="6.7" ry="0.9" fill="#e8b676" opacity="0.55" transform="rotate(-16.7 996.8 505.5)"/><ellipse cx="988.6" cy="511.3" rx="3.4" ry="1" fill="#f7dbb0" opacity="0.55" transform="rotate(-23.2 988.6 511.3)"/><ellipse cx="1008.9" cy="468.9" rx="4.2" ry="1.5" fill="#f6d6a6" opacity="0.55" transform="rotate(28.1 1008.9 468.9)"/><ellipse cx="886.5" cy="534.8" rx="7.5" ry="1" fill="#f6d6a6" opacity="0.55" transform="rotate(-39.3 886.5 534.8)"/><ellipse cx="950.6" cy="533.9" rx="5.7" ry="0.9" fill="#e8b676" opacity="0.55" transform="rotate(-34.5 950.6 533.9)"/><ellipse cx="875.2" cy="531.3" rx="6" ry="0.9" fill="#f6d6a6" opacity="0.55" transform="rotate(-18.5 875.2 531.3)"/><ellipse cx="886.5" cy="553.8" rx="7.8" ry="1" fill="#f6d6a6" opacity="0.55" transform="rotate(8.9 886.5 553.8)"/><ellipse cx="990.4" cy="574.8" rx="5.6" ry="1.3" fill="#f7dbb0" opacity="0.55" transform="rotate(15 990.4 574.8)"/><ellipse cx="899.6" cy="590" rx="6.7" ry="1.1" fill="#f6d6a6" opacity="0.55" transform="rotate(8.6 899.6 590)"/><ellipse cx="881" cy="542.4" rx="3.5" ry="1.5" fill="#e5b070" opacity="0.55" transform="rotate(-38 881 542.4)"/><ellipse cx="950" cy="554.4" rx="4.2" ry="1.5" fill="#e8b676" opacity="0.55" transform="rotate(-6 950 554.4)"/><ellipse cx="882.2" cy="562.1" rx="5.5" ry="1.7" fill="#e8b676" opacity="0.55" transform="rotate(4.8 882.2 562.1)"/><ellipse cx="1008.5" cy="486.8" rx="3.3" ry="1.7" fill="#e8b676" opacity="0.55" transform="rotate(-26.2 1008.5 486.8)"/><ellipse cx="901.3" cy="506.3" rx="6.1" ry="1.7" fill="#e8b676" opacity="0.55" transform="rotate(-11.6 901.3 506.3)"/><ellipse cx="961" cy="567.2" rx="5.9" ry="1.6" fill="#f7dbb0" opacity="0.55" transform="rotate(13.1 961 567.2)"/><ellipse cx="996.4" cy="580" rx="5.5" ry="0.8" fill="#e8b676" opacity="0.55" transform="rotate(-36.1 996.4 580)"/><ellipse cx="895.3" cy="542.5" rx="3.4" ry="1.5" fill="#f6d6a6" opacity="0.55" transform="rotate(-22.2 895.3 542.5)"/><ellipse cx="900.3" cy="519" rx="6" ry="1.3" fill="#e5b070" opacity="0.55" transform="rotate(-33.3 900.3 519)"/><ellipse cx="877.3" cy="545.7" rx="5.9" ry="1.3" fill="#f7dbb0" opacity="0.55" transform="rotate(-5.1 877.3 545.7)"/><ellipse cx="954.5" cy="528.6" rx="7.5" ry="0.8" fill="#f7dbb0" opacity="0.55" transform="rotate(11.4 954.5 528.6)"/><ellipse cx="876.9" cy="481.6" rx="3.7" ry="0.8" fill="#f6d6a6" opacity="0.55" transform="rotate(-0.7 876.9 481.6)"/><ellipse cx="948.8" cy="543.5" rx="3.3" ry="1.4" fill="#e5b070" opacity="0.55" transform="rotate(-10.1 948.8 543.5)"/><ellipse cx="905.1" cy="571.5" rx="6.6" ry="1.4" fill="#f6d6a6" opacity="0.55" transform="rotate(30.1 905.1 571.5)"/><ellipse cx="873.9" cy="509.5" rx="5.9" ry="0.8" fill="#e8b676" opacity="0.55" transform="rotate(-37.3 873.9 509.5)"/><ellipse cx="880.3" cy="452.5" rx="6.1" ry="1.3" fill="#f6d6a6" opacity="0.55" transform="rotate(-2 880.3 452.5)"/><ellipse cx="922.4" cy="565.4" rx="3" ry="1.7" fill="#e5b070" opacity="0.55" transform="rotate(7.2 922.4 565.4)"/><ellipse cx="884" cy="500.3" rx="4.2" ry="1.5" fill="#e8b676" opacity="0.55" transform="rotate(-24.6 884 500.3)"/><ellipse cx="884.4" cy="455.9" rx="3.4" ry="1.4" fill="#f6d6a6" opacity="0.55" transform="rotate(-33.4 884.4 455.9)"/><ellipse cx="991.2" cy="518.1" rx="5.6" ry="1.1" fill="#e8b676" opacity="0.55" transform="rotate(10.8 991.2 518.1)"/><ellipse cx="908.8" cy="539.6" rx="7.8" ry="1.3" fill="#f7dbb0" opacity="0.55" transform="rotate(-6.6 908.8 539.6)"/><ellipse cx="1013.8" cy="543.8" rx="6.4" ry="0.9" fill="#e8b676" opacity="0.55" transform="rotate(-36.9 1013.8 543.8)"/><ellipse cx="919.7" cy="485.1" rx="6" ry="1.2" fill="#e5b070" opacity="0.55" transform="rotate(-12.2 919.7 485.1)"/><ellipse cx="916.9" cy="518" rx="7.6" ry="1.2" fill="#f7dbb0" opacity="0.55" transform="rotate(-9.2 916.9 518)"/><ellipse cx="934" cy="496.8" rx="3.9" ry="1.3" fill="#f7dbb0" opacity="0.55" transform="rotate(-24.9 934 496.8)"/><ellipse cx="971.7" cy="498.7" rx="5.2" ry="1.4" fill="#e5b070" opacity="0.55" transform="rotate(20.9 971.7 498.7)"/></g>
<path d="M890.8 444.9 L893.6 445.9 L896.3 446.9 L898.7 447.8 L901.3 450.4 L903.5 453.4 L906.1 454.7 L907.1 457.1 L908.2 459.5 L910 461.3 L910.9 463.7 L913.1 465.3 L913.8 467.8 L915.3 469.8 L917 472.6 L919.1 475.2 L921.7 477.3 L923.2 479.5 L924.8 481.7 L925.8 484.3 L927.7 486.2 L930.1 487.8 L931.2 490.4 L933.6 491.9 L934.9 494.4 L937.1 495.9 L939 497.7 L939.9 500.4 L942.3 501.7 L944.5 503.9 L946.1 506.8 L949 509 L951.1 507.4 L953.8 507.4 L956 506 L958.2 504.5 L959.7 502.3 L962.5 501.4 L964.2 498.8 L966.5 496.8 L968.4 494.3 L969.4 491.7 L971.2 489.6 L972.6 487.3 L974.2 485.1 L975.8 483 L977.4 480.9 L979.1 478.9 L979.7 476.2 L981.9 474.4 L982.8 471.9 L984.2 469.7 L986.2 467.9 L987.2 465.5 L988.4 463.2 L990 461.2 L992 459.1 L993 456.2 L995.8 454.7 L996.6 451.4 L999.5 450.8 L1001.9 449.3 L1003.8 446.7 L1006.7 447.3 L1009.3 446.3 L1012 446.1 L1015.4 447.4 L1018.5 449.7 L1020.1 452.6 L1020.9 456 L1023.5 458.3 L1024.4 461.5 L1025.8 464.5 L1027.4 467.3 L1029.4 469.6 L1030.6 472.3 L1031.6 475 L1032.4 477.8 L1033.8 480.1 L1033.4 482.7 L1033.8 485.2 L1034.2 487.6 L1035.8 490 L1034.6 492.6 L1035.9 495.1 L1035.6 497.6 L1035.3 500.2 L1034.9 502.8 L1035.8 505.3 L1034.8 507.9 L1035.1 510.6 L1035.2 513.2 L1034.9 515.9 L1034.9 518.5 L1034.8 521.3 L1034 523.9 L1032.5 526.3 L1031.4 528.8 L1031.8 531.7 L1031.2 534.4 L1029.3 536.7 L1029.2 539.5 L1028.6 542.1 L1027.8 544.8 L1026.4 547.3 L1025.1 549.8 L1024.6 552.6 L1023.6 555.2 L1023.1 558 L1021 560.1 L1020.7 563 L1018.7 565 L1016.9 567 L1016.3 569.8 L1014.2 571.7 L1012.6 573.8 L1011.5 576.3 L1010 578.5 L1009.1 581.4 L1007.1 583.4 L1005.8 586 L1003.3 587.8 L1002.3 590.5 L1000.4 592.8 L997.7 593.6 L995.5 595.4 L993.6 596.7 L990.6 596.4 L987.8 595.5 L985.1 594.2 L982.2 593.6 L979.2 592.9 L977.5 590.7 L975.5 588.8 L974 586.5 L972.9 583.8 L970.9 581.9 L968.6 580.2 L966.5 578.4 L964.3 576.5 L962 574.7 L960.8 572.3 L960 569.7 L958.7 567.4 L956.7 565.5 L955.7 562.9 L952.9 561.1 L949.8 559.4 L947 560.5 L944 561.6 L942.8 564.2 L940.7 566.1 L939.4 568.7 L937.5 570.8 L935.5 572.8 L933.9 575.1 L932.7 577.7 L930.3 579.4 L928.9 581.9 L927.3 584.2 L924.9 586.3 L921.8 587 L919.3 588.7 L917.4 590.5 L916.2 592.7 L914.4 594.6 L913.3 596.7 L910.4 597.4 L907.8 599 L905 599.6 L903.2 597.5 L901.3 595.5 L898.9 594 L897.4 591.5 L895.5 589.6 L893.9 587.6 L892.9 585.3 L891.4 583.2 L889.5 581.4 L888.1 579.3 L886.3 577.5 L885.7 574.9 L884.4 572.7 L882.6 570.6 L881.7 568 L880.5 565.5 L879.2 563.1 L877.3 561 L876.8 558.1 L875.3 555.8 L874.2 553.3 L873 550.8 L872.5 548.1 L871.8 545.4 L870.8 542.8 L870 540.2 L868.2 537.8 L867.6 535.2 L866.7 531.6 L865.8 528.1 L865.1 525.5 L865.5 522.9 L865.3 520.3 L864.3 517.8 L864.8 515.2 L864.3 512.6 L863.9 509.9 L864.3 507.4 L864.8 505 L864.9 502.5 L865.1 500 L865.2 497.4 L866.1 495 L866.3 492.5 L867.1 490.1 L867.4 487.6 L867.3 485.1 L868.7 482.7 L867.8 480.1 L868.8 477.7 L869.4 474.7 L870.3 471.8 L870.7 468.8 L872.4 466.2 L873.1 463.3 L874 460.6 L876 458.3 L876.6 455.4 L879.1 453.2 L880.9 450.4 L883 448.1 L885.9 447.5 L888.4 446.2Z" fill="none" stroke="#000" stroke-width="2.6" stroke-linejoin="round"/>
<circle cx="894.1" cy="500" r="10.5" fill="#eab56a" opacity="0.55"/>
<circle cx="894.1" cy="500" r="10.5" fill="none" stroke="#8a7452" stroke-width="1.3" stroke-dasharray="3.2 2.2"/>
<circle cx="1003.9" cy="498.4" r="10.5" fill="#eab56a" opacity="0.55"/>
<circle cx="1003.9" cy="498.4" r="10.5" fill="none" stroke="#8a7452" stroke-width="1.3" stroke-dasharray="3.2 2.2"/>
<circle cx="907.8" cy="554.8" r="10.5" fill="#eab56a" opacity="0.55"/>
<circle cx="907.8" cy="554.8" r="10.5" fill="none" stroke="#8a7452" stroke-width="1.3" stroke-dasharray="3.2 2.2"/>
<circle cx="994.1" cy="554.1" r="10.5" fill="#eab56a" opacity="0.55"/>
<circle cx="994.1" cy="554.1" r="10.5" fill="none" stroke="#8a7452" stroke-width="1.3" stroke-dasharray="3.2 2.2"/>
</g>
<rect x="820.2" y="391.9" width="259.5" height="268.4" fill="none" stroke="#000" stroke-width="3"/>
<path d="M552.9 213.5C558.8 210.1 574.5 199.6 588.5 193.3C602.5 187 622.1 179.7 636.9 175.5C651.7 171.3 665.3 169.9 677.3 168.3C689.3 166.7 703.5 166.2 708.8 165.8L708.8 152.9 L751.6 184.4 L708.8 211.1 L708.8 199C703.5 198.6 689.3 196.8 677.3 196.5C665.3 196.2 651.7 195.7 636.9 197.3C622.1 198.9 602.5 203.5 588.5 206.2C574.5 208.9 558.8 212.3 552.9 213.5Z" fill="#cfd1d3" stroke="#7b7c7f" stroke-width="2" stroke-linejoin="miter"/>
<path d="M528.5 417C531.2 419.2 533.4 421 545 430C556.6 439 579.7 459.9 598.3 470.9C616.9 481.9 634.7 489.6 656.7 496.1C678.8 502.6 709.3 507.2 730.6 509.8C751.9 512.4 775.7 511.2 784.7 511.5L784.7 498.9 L828.5 525.2 L784.7 557.2 L784.7 543.6C776.3 543.1 755.8 544.6 734.5 540.9C713.2 537.2 679.4 530.8 656.7 521.4C634 512 616.1 497.4 598.3 484.5C580.5 471.6 561.6 455.2 550 444C538.4 432.8 532.1 421.5 528.5 417Z" fill="#cfd1d3" stroke="#7b7c7f" stroke-width="2" stroke-linejoin="miter"/>
<rect x="320" y="1168" width="185" height="34" fill="url(#fadeL)"/>
<rect x="320" y="1201" width="185" height="33" fill="#fff"/>
<rect x="500" y="1138" width="190" height="36" fill="url(#fadeL)"/>
<rect x="500" y="1173" width="190" height="61" fill="#fff"/>
<path d="M704.2 101.8 L786 191" fill="none" stroke="#1a1a1a" stroke-width="1.6"/>
<path d="M858.2 159.2 L1012 145.5" fill="none" stroke="#1a1a1a" stroke-width="1.6"/>
<path d="M875.7 195.6 L1012 195.4" fill="none" stroke="#1a1a1a" stroke-width="1.6"/>
<path d="M898.5 226.8 L1011 245.3" fill="none" stroke="#1a1a1a" stroke-width="1.6"/>
<path d="M954.3 440.6 L1127 316.3" fill="none" stroke="#1a1a1a" stroke-width="1.6"/>
<path d="M1025.9 476.4 L1126.3 460.4" fill="none" stroke="#1a1a1a" stroke-width="1.6"/>
<path d="M893.7 499.8 L1053.4 525.5" fill="none" stroke="#1a1a1a" stroke-width="1.3"/>
<path d="M1003.9 498.4 L1053.4 525.5" fill="none" stroke="#1a1a1a" stroke-width="1.3"/>
<path d="M908.8 553.5 L1053.4 525.5" fill="none" stroke="#1a1a1a" stroke-width="1.3"/>
<path d="M994.2 553.5 L1053.4 525.5" fill="none" stroke="#1a1a1a" stroke-width="1.3"/>
<path d="M1053.4 525.4 L1126.3 525.4" fill="none" stroke="#1a1a1a" stroke-width="1.6"/>
<path d="M954.3 627.9 L1126.3 711.9" fill="none" stroke="#1a1a1a" stroke-width="1.6"/>
<path d="M252 523.4 L272 523.4" stroke="#fff" stroke-width="5"/>
<path d="M220.1 523.4 L506.7 523.4" fill="none" stroke="#1a1a1a" stroke-width="2"/>
<path d="M444 737.3 L567 716.6 L570.8 734.5" fill="none" stroke="#222" stroke-width="1.5"/>
<path d="M567 716.4 L892.3 716.4" fill="none" stroke="#707070" stroke-width="2.6"/>
<path d="M488.8 822.1 L892.3 822.1" fill="none" stroke="#707070" stroke-width="2.6"/>
<path d="M505 940.9 L567.6 914.4" fill="none" stroke="#222" stroke-width="1.5"/>
<path d="M567.6 914.4 L892.3 914.4" fill="none" stroke="#707070" stroke-width="2.6"/>
<path d="M455.6 979.5 L593.1 998.1 L559.1 976.4" fill="none" stroke="#222" stroke-width="1.5"/>
<path d="M593.1 997.8 L892.3 997.8" fill="none" stroke="#707070" stroke-width="2.6"/>
<path d="M481.5 1099.5 L578 1133.4 L515.9 1091.1" fill="none" stroke="#222" stroke-width="1.6"/>
<path d="M578 1133.4 L892.4 1133.4" fill="none" stroke="#222" stroke-width="2"/>
<text class="t" x="484.5" y="107.2">Pineal gland</text>
<text class="t" x="1019" y="157.1">Thalamus</text>
<text class="t" x="1018.5" y="206.6">Hypothalamus</text>
<text class="t" x="1018.5" y="256">Pituitary gland</text>
<text class="t" x="1135.4" y="325.1">Thyroid</text>
<text class="t" x="1133.9" y="366.5">cartilage</text>
<text class="t" x="1133.9" y="407.6">of the larynx</text>
<text class="t" x="820" y="382" font-weight="bold" style="font-size:37.8px;stroke-width:0">Thyroid:</text>
<text class="t" x="1134.7" y="468.4">Thyroid gland</text>
<text class="t" x="1133.1" y="528.4">Parathyroid</text>
<text class="t" x="1133.9" y="569.7">glands</text>
<text class="t" x="71.7" y="530.4">Thymus</text>
<text class="t" x="1134.7" y="720.4">Trachea</text>
<text class="t" x="902.3" y="724.1">Adrenal</text>
<text class="t" x="901" y="764">glands</text>
<text class="t" x="900.8" y="828.8">Pancreas</text>
<text class="t" x="900.9" y="921.4">Uterus (female)</text>
<text class="t" x="901.7" y="1004">Ovaries (female)</text>
<text class="t" x="902.6" y="1140.9">Testes (male)</text>
</svg></body></html>
